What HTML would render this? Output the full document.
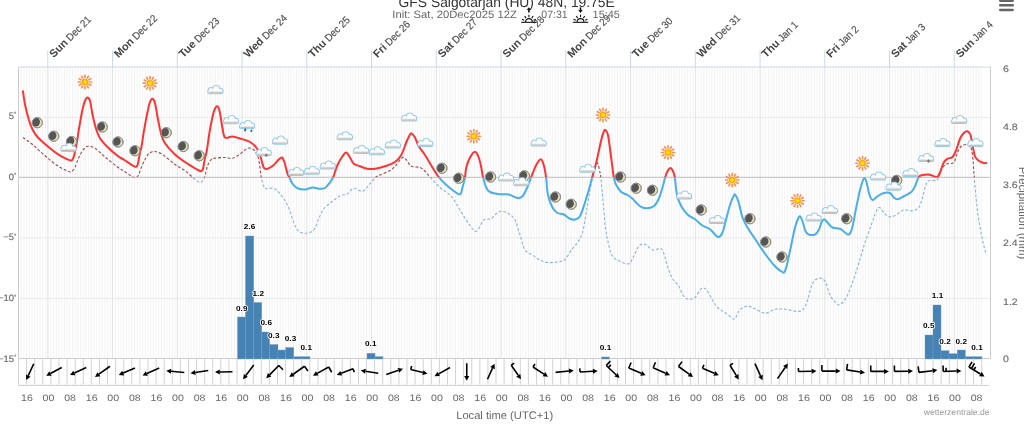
<!DOCTYPE html>
<html><head><meta charset="utf-8"><title>GFS Salgotarjan (HU) 48N, 19.75E</title>
<style>html,body{margin:0;padding:0;background:#fff;overflow:hidden}body{width:1024px;height:425px}svg{display:block}text{font-family:"Liberation Sans", sans-serif;text-rendering:geometricPrecision}</style></head><body>
<svg width="1024" height="425" viewBox="0 0 1024 425">
<defs>
<clipPath id="above"><rect x="18.5" y="67.0" width="972.0" height="110.30"/></clipPath>
<clipPath id="below"><rect x="18.5" y="177.30" width="972.0" height="181.20"/></clipPath>
<clipPath id="plot"><rect x="18.5" y="67.0" width="972.0" height="291.5"/></clipPath>
<radialGradient id="sung"><stop offset="0" stop-color="#fff200"/><stop offset="0.45" stop-color="#ffd800"/><stop offset="1" stop-color="#ff8a00"/></radialGradient>
<linearGradient id="cldg" x1="0" y1="0" x2="0" y2="1"><stop offset="0" stop-color="#ffffff"/><stop offset="0.35" stop-color="#ecebe9"/><stop offset="1" stop-color="#b5b1ab"/></linearGradient>
<clipPath id="moonclip"><circle cx="0" cy="0" r="5.1"/></clipPath>
<g id="cloud"><g fill="#8fc6ea" stroke="#8fc6ea" stroke-width="2" stroke-opacity="0.9"><rect x="-7.2" y="0.2" width="14.4" height="3.4" rx="1.9"/><circle cx="-4.3" cy="0.5" r="2.1"/><circle cx="0.9" cy="-0.6" r="3.0"/><circle cx="5.0" cy="1.1" r="2.0"/></g><g fill="#fff"><rect x="-7.2" y="0.2" width="14.4" height="3.4" rx="1.9"/><circle cx="-4.3" cy="0.5" r="2.1"/><circle cx="0.9" cy="-0.6" r="3.0"/><circle cx="5.0" cy="1.1" r="2.0"/></g><rect x="-6.7" y="0.9" width="13.4" height="2.7" rx="0.9" fill="url(#cldg)"/></g>
<g id="sun"><g stroke="#f4813a" stroke-width="1.7" stroke-linecap="round" opacity="0.85"><line x1="0.00" y1="-4.50" x2="0.00" y2="-6.60"/><line x1="2.25" y1="-3.90" x2="3.30" y2="-5.72"/><line x1="3.90" y1="-2.25" x2="5.72" y2="-3.30"/><line x1="4.50" y1="-0.00" x2="6.60" y2="-0.00"/><line x1="3.90" y1="2.25" x2="5.72" y2="3.30"/><line x1="2.25" y1="3.90" x2="3.30" y2="5.72"/><line x1="0.00" y1="4.50" x2="0.00" y2="6.60"/><line x1="-2.25" y1="3.90" x2="-3.30" y2="5.72"/><line x1="-3.90" y1="2.25" x2="-5.72" y2="3.30"/><line x1="-4.50" y1="0.00" x2="-6.60" y2="0.00"/><line x1="-3.90" y1="-2.25" x2="-5.72" y2="-3.30"/><line x1="-2.25" y1="-3.90" x2="-3.30" y2="-5.72"/></g><circle r="3.3" fill="url(#sung)"/></g>
<g id="moon"><circle r="5.1" fill="#e4dfb2" stroke="#8c8c8c" stroke-width="0.9"/><circle cx="-1.8" cy="-0.7" r="4.5" fill="#555555" clip-path="url(#moonclip)"/><circle r="5.1" fill="none" stroke="#8c8c8c" stroke-width="0.9"/></g>
</defs>
<rect width="1024" height="425" fill="#fff"/>
<g opacity="0.999">
<path d="M18.50 67.0V358.5M21.20 67.0V358.5M23.90 67.0V358.5M26.59 67.0V358.5M29.29 67.0V358.5M31.99 67.0V358.5M34.69 67.0V358.5M37.39 67.0V358.5M40.08 67.0V358.5M42.78 67.0V358.5M45.48 67.0V358.5M48.18 67.0V358.5M50.87 67.0V358.5M53.57 67.0V358.5M56.27 67.0V358.5M58.97 67.0V358.5M61.67 67.0V358.5M64.36 67.0V358.5M67.06 67.0V358.5M69.76 67.0V358.5M72.46 67.0V358.5M75.16 67.0V358.5M77.85 67.0V358.5M80.55 67.0V358.5M83.25 67.0V358.5M85.95 67.0V358.5M88.65 67.0V358.5M91.34 67.0V358.5M94.04 67.0V358.5M96.74 67.0V358.5M99.44 67.0V358.5M102.14 67.0V358.5M104.83 67.0V358.5M107.53 67.0V358.5M110.23 67.0V358.5M112.93 67.0V358.5M115.63 67.0V358.5M118.32 67.0V358.5M121.02 67.0V358.5M123.72 67.0V358.5M126.42 67.0V358.5M129.11 67.0V358.5M131.81 67.0V358.5M134.51 67.0V358.5M137.21 67.0V358.5M139.91 67.0V358.5M142.60 67.0V358.5M145.30 67.0V358.5M148.00 67.0V358.5M150.70 67.0V358.5M153.40 67.0V358.5M156.09 67.0V358.5M158.79 67.0V358.5M161.49 67.0V358.5M164.19 67.0V358.5M166.89 67.0V358.5M169.58 67.0V358.5M172.28 67.0V358.5M174.98 67.0V358.5M177.68 67.0V358.5M180.37 67.0V358.5M183.07 67.0V358.5M185.77 67.0V358.5M188.47 67.0V358.5M191.17 67.0V358.5M193.86 67.0V358.5M196.56 67.0V358.5M199.26 67.0V358.5M201.96 67.0V358.5M204.66 67.0V358.5M207.35 67.0V358.5M210.05 67.0V358.5M212.75 67.0V358.5M215.45 67.0V358.5M218.15 67.0V358.5M220.84 67.0V358.5M223.54 67.0V358.5M226.24 67.0V358.5M228.94 67.0V358.5M231.64 67.0V358.5M234.33 67.0V358.5M237.03 67.0V358.5M239.73 67.0V358.5M242.43 67.0V358.5M245.12 67.0V358.5M247.82 67.0V358.5M250.52 67.0V358.5M253.22 67.0V358.5M255.92 67.0V358.5M258.61 67.0V358.5M261.31 67.0V358.5M264.01 67.0V358.5M266.71 67.0V358.5M269.41 67.0V358.5M272.10 67.0V358.5M274.80 67.0V358.5M277.50 67.0V358.5M280.20 67.0V358.5M282.90 67.0V358.5M285.59 67.0V358.5M288.29 67.0V358.5M290.99 67.0V358.5M293.69 67.0V358.5M296.39 67.0V358.5M299.08 67.0V358.5M301.78 67.0V358.5M304.48 67.0V358.5M307.18 67.0V358.5M309.88 67.0V358.5M312.57 67.0V358.5M315.27 67.0V358.5M317.97 67.0V358.5M320.67 67.0V358.5M323.36 67.0V358.5M326.06 67.0V358.5M328.76 67.0V358.5M331.46 67.0V358.5M334.16 67.0V358.5M336.85 67.0V358.5M339.55 67.0V358.5M342.25 67.0V358.5M344.95 67.0V358.5M347.65 67.0V358.5M350.34 67.0V358.5M353.04 67.0V358.5M355.74 67.0V358.5M358.44 67.0V358.5M361.14 67.0V358.5M363.83 67.0V358.5M366.53 67.0V358.5M369.23 67.0V358.5M371.93 67.0V358.5M374.63 67.0V358.5M377.32 67.0V358.5M380.02 67.0V358.5M382.72 67.0V358.5M385.42 67.0V358.5M388.11 67.0V358.5M390.81 67.0V358.5M393.51 67.0V358.5M396.21 67.0V358.5M398.91 67.0V358.5M401.60 67.0V358.5M404.30 67.0V358.5M407.00 67.0V358.5M409.70 67.0V358.5M412.40 67.0V358.5M415.09 67.0V358.5M417.79 67.0V358.5M420.49 67.0V358.5M423.19 67.0V358.5M425.89 67.0V358.5M428.58 67.0V358.5M431.28 67.0V358.5M433.98 67.0V358.5M436.68 67.0V358.5M439.38 67.0V358.5M442.07 67.0V358.5M444.77 67.0V358.5M447.47 67.0V358.5M450.17 67.0V358.5M452.86 67.0V358.5M455.56 67.0V358.5M458.26 67.0V358.5M460.96 67.0V358.5M463.66 67.0V358.5M466.35 67.0V358.5M469.05 67.0V358.5M471.75 67.0V358.5M474.45 67.0V358.5M477.15 67.0V358.5M479.84 67.0V358.5M482.54 67.0V358.5M485.24 67.0V358.5M487.94 67.0V358.5M490.64 67.0V358.5M493.33 67.0V358.5M496.03 67.0V358.5M498.73 67.0V358.5M501.43 67.0V358.5M504.13 67.0V358.5M506.82 67.0V358.5M509.52 67.0V358.5M512.22 67.0V358.5M514.92 67.0V358.5M517.61 67.0V358.5M520.31 67.0V358.5M523.01 67.0V358.5M525.71 67.0V358.5M528.41 67.0V358.5M531.10 67.0V358.5M533.80 67.0V358.5M536.50 67.0V358.5M539.20 67.0V358.5M541.90 67.0V358.5M544.59 67.0V358.5M547.29 67.0V358.5M549.99 67.0V358.5M552.69 67.0V358.5M555.39 67.0V358.5M558.08 67.0V358.5M560.78 67.0V358.5M563.48 67.0V358.5M566.18 67.0V358.5M568.88 67.0V358.5M571.57 67.0V358.5M574.27 67.0V358.5M576.97 67.0V358.5M579.67 67.0V358.5M582.36 67.0V358.5M585.06 67.0V358.5M587.76 67.0V358.5M590.46 67.0V358.5M593.16 67.0V358.5M595.85 67.0V358.5M598.55 67.0V358.5M601.25 67.0V358.5M603.95 67.0V358.5M606.65 67.0V358.5M609.34 67.0V358.5M612.04 67.0V358.5M614.74 67.0V358.5M617.44 67.0V358.5M620.14 67.0V358.5M622.83 67.0V358.5M625.53 67.0V358.5M628.23 67.0V358.5M630.93 67.0V358.5M633.62 67.0V358.5M636.32 67.0V358.5M639.02 67.0V358.5M641.72 67.0V358.5M644.42 67.0V358.5M647.11 67.0V358.5M649.81 67.0V358.5M652.51 67.0V358.5M655.21 67.0V358.5M657.91 67.0V358.5M660.60 67.0V358.5M663.30 67.0V358.5M666.00 67.0V358.5M668.70 67.0V358.5M671.40 67.0V358.5M674.09 67.0V358.5M676.79 67.0V358.5M679.49 67.0V358.5M682.19 67.0V358.5M684.89 67.0V358.5M687.58 67.0V358.5M690.28 67.0V358.5M692.98 67.0V358.5M695.68 67.0V358.5M698.37 67.0V358.5M701.07 67.0V358.5M703.77 67.0V358.5M706.47 67.0V358.5M709.17 67.0V358.5M711.86 67.0V358.5M714.56 67.0V358.5M717.26 67.0V358.5M719.96 67.0V358.5M722.66 67.0V358.5M725.35 67.0V358.5M728.05 67.0V358.5M730.75 67.0V358.5M733.45 67.0V358.5M736.15 67.0V358.5M738.84 67.0V358.5M741.54 67.0V358.5M744.24 67.0V358.5M746.94 67.0V358.5M749.64 67.0V358.5M752.33 67.0V358.5M755.03 67.0V358.5M757.73 67.0V358.5M760.43 67.0V358.5M763.12 67.0V358.5M765.82 67.0V358.5M768.52 67.0V358.5M771.22 67.0V358.5M773.92 67.0V358.5M776.61 67.0V358.5M779.31 67.0V358.5M782.01 67.0V358.5M784.71 67.0V358.5M787.41 67.0V358.5M790.10 67.0V358.5M792.80 67.0V358.5M795.50 67.0V358.5M798.20 67.0V358.5M800.90 67.0V358.5M803.59 67.0V358.5M806.29 67.0V358.5M808.99 67.0V358.5M811.69 67.0V358.5M814.39 67.0V358.5M817.08 67.0V358.5M819.78 67.0V358.5M822.48 67.0V358.5M825.18 67.0V358.5M827.87 67.0V358.5M830.57 67.0V358.5M833.27 67.0V358.5M835.97 67.0V358.5M838.67 67.0V358.5M841.36 67.0V358.5M844.06 67.0V358.5M846.76 67.0V358.5M849.46 67.0V358.5M852.16 67.0V358.5M854.85 67.0V358.5M857.55 67.0V358.5M860.25 67.0V358.5M862.95 67.0V358.5M865.65 67.0V358.5M868.34 67.0V358.5M871.04 67.0V358.5M873.74 67.0V358.5M876.44 67.0V358.5M879.14 67.0V358.5M881.83 67.0V358.5M884.53 67.0V358.5M887.23 67.0V358.5M889.93 67.0V358.5M892.62 67.0V358.5M895.32 67.0V358.5M898.02 67.0V358.5M900.72 67.0V358.5M903.42 67.0V358.5M906.11 67.0V358.5M908.81 67.0V358.5M911.51 67.0V358.5M914.21 67.0V358.5M916.91 67.0V358.5M919.60 67.0V358.5M922.30 67.0V358.5M925.00 67.0V358.5M927.70 67.0V358.5M930.40 67.0V358.5M933.09 67.0V358.5M935.79 67.0V358.5M938.49 67.0V358.5M941.19 67.0V358.5M943.89 67.0V358.5M946.58 67.0V358.5M949.28 67.0V358.5M951.98 67.0V358.5M954.68 67.0V358.5M957.37 67.0V358.5M960.07 67.0V358.5M962.77 67.0V358.5M965.47 67.0V358.5M968.17 67.0V358.5M970.86 67.0V358.5M973.56 67.0V358.5M976.26 67.0V358.5M978.96 67.0V358.5M981.66 67.0V358.5" stroke="#f3f3f3" stroke-width="1" fill="none"/>
<path d="M47.80 67.0V358.5M112.55 67.0V358.5M177.30 67.0V358.5M242.05 67.0V358.5M306.80 67.0V358.5M371.55 67.0V358.5M436.30 67.0V358.5M501.05 67.0V358.5M565.80 67.0V358.5M630.55 67.0V358.5M695.30 67.0V358.5M760.05 67.0V358.5M824.80 67.0V358.5M889.55 67.0V358.5M954.30 67.0V358.5" stroke="#e4e4e4" stroke-width="1" fill="none"/>
<path d="M18.5 117.4H990.5M18.5 237.9H990.5M18.5 298.4H990.5" stroke="#ebebeb" stroke-width="1" fill="none"/>
<path d="M18.5 177.40H990.5" stroke="#c9c9c9" stroke-width="1.2" fill="none"/>
<path d="M18.5 67.0V385.5" stroke="#cccccc" stroke-width="1" fill="none"/>
<path d="M990.5 67.0V358.5" stroke="#cccccc" stroke-width="1" fill="none"/>
<path d="M18.5 358.5H990.5" stroke="#cccccc" stroke-width="1" fill="none"/>
<path d="M18.5 67.0H990.5" stroke="#ccd6eb" stroke-width="1" fill="none"/>
<rect x="237.50" y="317.00" width="8.00" height="42.00" fill="#4682b4" stroke="#6d9cc6" stroke-width="0.4"/>
<rect x="245.50" y="236.00" width="8.25" height="123.00" fill="#4682b4" stroke="#6d9cc6" stroke-width="0.4"/>
<rect x="253.75" y="302.50" width="8.00" height="56.50" fill="#4682b4" stroke="#6d9cc6" stroke-width="0.4"/>
<rect x="261.75" y="332.00" width="7.85" height="27.00" fill="#4682b4" stroke="#6d9cc6" stroke-width="0.4"/>
<rect x="269.60" y="344.50" width="8.40" height="14.50" fill="#4682b4" stroke="#6d9cc6" stroke-width="0.4"/>
<rect x="278.00" y="350.00" width="7.75" height="9.00" fill="#4682b4" stroke="#6d9cc6" stroke-width="0.4"/>
<rect x="285.75" y="347.50" width="8.00" height="11.50" fill="#4682b4" stroke="#6d9cc6" stroke-width="0.4"/>
<rect x="293.75" y="356.75" width="8.25" height="2.25" fill="#4682b4" stroke="#6d9cc6" stroke-width="0.4"/>
<rect x="302.00" y="356.75" width="8.00" height="2.25" fill="#4682b4" stroke="#6d9cc6" stroke-width="0.4"/>
<rect x="367.00" y="353.25" width="8.00" height="5.75" fill="#4682b4" stroke="#6d9cc6" stroke-width="0.4"/>
<rect x="375.00" y="356.75" width="8.00" height="2.25" fill="#4682b4" stroke="#6d9cc6" stroke-width="0.4"/>
<rect x="601.75" y="357.00" width="7.75" height="2.00" fill="#4682b4" stroke="#6d9cc6" stroke-width="0.4"/>
<rect x="925.00" y="335.00" width="8.00" height="24.00" fill="#4682b4" stroke="#6d9cc6" stroke-width="0.4"/>
<rect x="933.00" y="305.00" width="8.00" height="54.00" fill="#4682b4" stroke="#6d9cc6" stroke-width="0.4"/>
<rect x="941.00" y="350.75" width="8.00" height="8.25" fill="#4682b4" stroke="#6d9cc6" stroke-width="0.4"/>
<rect x="949.00" y="353.75" width="8.25" height="5.25" fill="#4682b4" stroke="#6d9cc6" stroke-width="0.4"/>
<rect x="957.25" y="350.00" width="8.00" height="9.00" fill="#4682b4" stroke="#6d9cc6" stroke-width="0.4"/>
<rect x="965.25" y="356.75" width="8.25" height="2.25" fill="#4682b4" stroke="#6d9cc6" stroke-width="0.4"/>
<rect x="973.50" y="356.75" width="8.50" height="2.25" fill="#4682b4" stroke="#6d9cc6" stroke-width="0.4"/>
<path d="M23.00 137.50C24.58 138.67 28.83 141.46 32.50 144.50C36.17 147.54 40.83 152.21 45.00 155.75C49.17 159.29 53.75 163.21 57.50 165.75C61.25 168.29 65.37 169.96 67.50 171.00C69.63 172.04 69.47 172.03 70.30 172.00C71.13 171.97 71.72 171.58 72.50 170.80C73.28 170.02 74.05 169.30 75.00 167.30C75.95 165.30 77.03 161.47 78.20 158.80C79.37 156.13 80.87 153.10 82.00 151.30C83.13 149.50 84.00 148.83 85.00 148.00C86.00 147.17 86.33 146.26 88.00 146.30C89.67 146.34 92.17 146.47 95.00 148.25C97.83 150.03 101.25 153.88 105.00 157.00C108.75 160.12 114.27 164.60 117.50 167.00C120.73 169.40 121.98 169.82 124.40 171.40C126.82 172.98 130.12 175.47 132.00 176.50C133.88 177.53 134.62 177.83 135.70 177.60C136.78 177.37 137.63 176.62 138.50 175.10C139.37 173.58 139.95 170.85 140.90 168.50C141.85 166.15 143.02 163.35 144.20 161.00C145.38 158.65 146.78 155.90 148.00 154.40C149.22 152.90 150.42 152.50 151.50 152.00C152.58 151.50 152.67 150.98 154.50 151.40C156.33 151.82 159.08 152.32 162.50 154.50C165.92 156.68 171.25 161.79 175.00 164.50C178.75 167.21 181.83 168.42 185.00 170.75C188.17 173.08 191.50 176.54 194.00 178.50C196.50 180.46 198.53 182.17 200.00 182.50C201.47 182.83 202.02 181.42 202.80 180.50C203.58 179.58 203.92 179.42 204.70 177.00C205.48 174.58 206.45 168.87 207.50 166.00C208.55 163.13 209.75 161.09 211.00 159.80C212.25 158.51 212.67 158.63 215.00 158.25C217.33 157.87 222.08 157.50 225.00 157.50C227.92 157.50 230.00 158.83 232.50 158.25C235.00 157.67 237.92 155.38 240.00 154.00C242.08 152.62 243.33 151.00 245.00 150.00C246.67 149.00 248.33 147.79 250.00 148.00C251.67 148.21 253.54 149.25 255.00 151.25C256.46 153.25 257.71 155.71 258.75 160.00C259.79 164.29 260.42 172.62 261.25 177.00C262.08 181.38 262.92 184.29 263.75 186.25C264.58 188.21 264.58 188.42 266.25 188.75C267.92 189.08 271.46 187.42 273.75 188.25C276.04 189.08 277.71 190.96 280.00 193.75C282.29 196.54 285.21 200.21 287.50 205.00C289.79 209.79 291.88 218.12 293.75 222.50C295.62 226.88 296.67 229.46 298.75 231.25C300.83 233.04 303.75 233.46 306.25 233.25C308.75 233.04 311.67 232.42 313.75 230.00C315.83 227.58 317.08 222.29 318.75 218.75C320.42 215.21 321.46 211.67 323.75 208.75C326.04 205.83 329.79 203.42 332.50 201.25C335.21 199.08 337.50 197.00 340.00 195.75C342.50 194.50 345.21 195.00 347.50 193.75C349.79 192.50 351.25 188.67 353.75 188.25C356.25 187.83 359.79 192.00 362.50 191.25C365.21 190.50 367.75 186.12 370.00 183.75C372.25 181.38 374.33 178.46 376.00 177.00C377.67 175.54 377.67 176.08 380.00 175.00C382.33 173.92 387.29 172.17 390.00 170.50C392.71 168.83 394.38 167.00 396.25 165.00C398.12 163.00 400.00 159.75 401.25 158.50C402.50 157.25 402.71 157.04 403.75 157.50C404.79 157.96 406.25 159.79 407.50 161.25C408.75 162.71 409.17 165.21 411.25 166.25C413.33 167.29 417.71 166.67 420.00 167.50C422.29 168.33 423.33 169.67 425.00 171.25C426.67 172.83 427.50 174.29 430.00 177.00C432.50 179.71 436.46 184.29 440.00 187.50C443.54 190.71 447.92 192.50 451.25 196.25C454.58 200.00 457.08 205.42 460.00 210.00C462.92 214.58 466.04 220.21 468.75 223.75C471.46 227.29 473.75 231.88 476.25 231.25C478.75 230.62 481.25 222.08 483.75 220.00C486.25 217.92 489.17 219.79 491.25 218.75C493.33 217.71 494.58 215.00 496.25 213.75C497.92 212.50 499.17 211.25 501.25 211.25C503.33 211.25 506.46 212.29 508.75 213.75C511.04 215.21 513.12 216.46 515.00 220.00C516.88 223.54 518.33 230.00 520.00 235.00C521.67 240.00 522.92 246.67 525.00 250.00C527.08 253.33 530.00 253.33 532.50 255.00C535.00 256.67 537.50 258.75 540.00 260.00C542.50 261.25 544.58 262.17 547.50 262.50C550.42 262.83 554.58 262.50 557.50 262.00C560.42 261.50 562.71 261.50 565.00 259.50C567.29 257.50 569.17 252.83 571.25 250.00C573.33 247.17 575.62 245.42 577.50 242.50C579.38 239.58 581.04 237.50 582.50 232.50C583.96 227.50 585.00 219.58 586.25 212.50C587.50 205.42 588.88 196.08 590.00 190.00C591.12 183.92 591.96 180.17 593.00 176.00C594.04 171.83 595.42 167.04 596.25 165.00C597.08 162.96 597.38 162.50 598.00 163.75C598.62 165.00 599.54 170.29 600.00 172.50C600.46 174.71 600.25 172.42 600.75 177.00C601.25 181.58 602.21 191.58 603.00 200.00C603.79 208.42 604.54 220.00 605.50 227.50C606.46 235.00 607.58 240.21 608.75 245.00C609.92 249.79 610.62 253.54 612.50 256.25C614.38 258.96 617.29 260.00 620.00 261.25C622.71 262.50 626.46 264.58 628.75 263.75C631.04 262.92 632.08 259.17 633.75 256.25C635.42 253.33 636.88 248.25 638.75 246.25C640.62 244.25 642.71 243.62 645.00 244.25C647.29 244.88 649.79 249.25 652.50 250.00C655.21 250.75 659.17 247.50 661.25 248.75C663.33 250.00 663.75 253.96 665.00 257.50C666.25 261.04 667.50 266.46 668.75 270.00C670.00 273.54 670.83 276.04 672.50 278.75C674.17 281.46 676.88 283.33 678.75 286.25C680.62 289.17 682.08 294.08 683.75 296.25C685.42 298.42 686.88 299.04 688.75 299.25C690.62 299.46 693.12 299.04 695.00 297.50C696.88 295.96 698.54 291.58 700.00 290.00C701.46 288.42 702.50 287.79 703.75 288.00C705.00 288.21 706.04 289.25 707.50 291.25C708.96 293.25 710.83 297.29 712.50 300.00C714.17 302.71 715.42 305.42 717.50 307.50C719.58 309.58 722.71 310.83 725.00 312.50C727.29 314.17 729.58 316.46 731.25 317.50C732.92 318.54 733.54 320.08 735.00 318.75C736.46 317.42 737.92 311.58 740.00 309.50C742.08 307.42 745.00 306.38 747.50 306.25C750.00 306.12 752.08 307.58 755.00 308.75C757.92 309.92 761.67 313.17 765.00 313.25C768.33 313.33 771.67 309.92 775.00 309.25C778.33 308.58 780.83 308.92 785.00 309.25C789.17 309.58 796.46 312.17 800.00 311.25C803.54 310.33 804.17 308.33 806.25 303.75C808.33 299.17 810.42 288.00 812.50 283.75C814.58 279.50 816.67 278.67 818.75 278.25C820.83 277.83 823.12 278.46 825.00 281.25C826.88 284.04 828.12 291.33 830.00 295.00C831.88 298.67 834.58 301.67 836.25 303.25C837.92 304.83 838.33 305.46 840.00 304.50C841.67 303.54 844.17 301.17 846.25 297.50C848.33 293.83 850.62 287.50 852.50 282.50C854.38 277.50 856.04 272.08 857.50 267.50C858.96 262.92 860.00 259.17 861.25 255.00C862.50 250.83 863.33 247.50 865.00 242.50C866.67 237.50 869.38 230.21 871.25 225.00C873.12 219.79 874.88 214.17 876.25 211.25C877.62 208.33 878.25 207.29 879.50 207.50C880.75 207.71 882.21 210.96 883.75 212.50C885.29 214.04 886.88 216.25 888.75 216.75C890.62 217.25 892.50 216.62 895.00 215.50C897.50 214.38 900.83 210.79 903.75 210.00C906.67 209.21 910.00 211.17 912.50 210.75C915.00 210.33 917.08 209.71 918.75 207.50C920.42 205.29 921.25 201.46 922.50 197.50C923.75 193.54 925.00 186.58 926.25 183.75C927.50 180.92 928.33 181.04 930.00 180.50C931.67 179.96 934.79 181.08 936.25 180.50C937.71 179.92 937.71 179.17 938.75 177.00C939.79 174.83 941.04 169.71 942.50 167.50C943.96 165.29 945.62 164.58 947.50 163.75C949.38 162.92 952.08 164.38 953.75 162.50C955.42 160.62 956.25 155.21 957.50 152.50C958.75 149.79 959.79 147.58 961.25 146.25C962.71 144.92 964.79 144.62 966.25 144.50C967.71 144.38 968.96 143.75 970.00 145.50C971.04 147.25 971.79 149.75 972.50 155.00C973.21 160.25 973.62 169.50 974.25 177.00C974.88 184.50 975.50 192.83 976.25 200.00C977.00 207.17 977.71 213.33 978.75 220.00C979.79 226.67 981.25 234.17 982.50 240.00C983.75 245.83 985.62 252.50 986.25 255.00" fill="none" stroke="#a04848" stroke-width="1.1" stroke-dasharray="2.8 1.9" clip-path="url(#above)"/>
<path d="M23.00 137.50C24.58 138.67 28.83 141.46 32.50 144.50C36.17 147.54 40.83 152.21 45.00 155.75C49.17 159.29 53.75 163.21 57.50 165.75C61.25 168.29 65.37 169.96 67.50 171.00C69.63 172.04 69.47 172.03 70.30 172.00C71.13 171.97 71.72 171.58 72.50 170.80C73.28 170.02 74.05 169.30 75.00 167.30C75.95 165.30 77.03 161.47 78.20 158.80C79.37 156.13 80.87 153.10 82.00 151.30C83.13 149.50 84.00 148.83 85.00 148.00C86.00 147.17 86.33 146.26 88.00 146.30C89.67 146.34 92.17 146.47 95.00 148.25C97.83 150.03 101.25 153.88 105.00 157.00C108.75 160.12 114.27 164.60 117.50 167.00C120.73 169.40 121.98 169.82 124.40 171.40C126.82 172.98 130.12 175.47 132.00 176.50C133.88 177.53 134.62 177.83 135.70 177.60C136.78 177.37 137.63 176.62 138.50 175.10C139.37 173.58 139.95 170.85 140.90 168.50C141.85 166.15 143.02 163.35 144.20 161.00C145.38 158.65 146.78 155.90 148.00 154.40C149.22 152.90 150.42 152.50 151.50 152.00C152.58 151.50 152.67 150.98 154.50 151.40C156.33 151.82 159.08 152.32 162.50 154.50C165.92 156.68 171.25 161.79 175.00 164.50C178.75 167.21 181.83 168.42 185.00 170.75C188.17 173.08 191.50 176.54 194.00 178.50C196.50 180.46 198.53 182.17 200.00 182.50C201.47 182.83 202.02 181.42 202.80 180.50C203.58 179.58 203.92 179.42 204.70 177.00C205.48 174.58 206.45 168.87 207.50 166.00C208.55 163.13 209.75 161.09 211.00 159.80C212.25 158.51 212.67 158.63 215.00 158.25C217.33 157.87 222.08 157.50 225.00 157.50C227.92 157.50 230.00 158.83 232.50 158.25C235.00 157.67 237.92 155.38 240.00 154.00C242.08 152.62 243.33 151.00 245.00 150.00C246.67 149.00 248.33 147.79 250.00 148.00C251.67 148.21 253.54 149.25 255.00 151.25C256.46 153.25 257.71 155.71 258.75 160.00C259.79 164.29 260.42 172.62 261.25 177.00C262.08 181.38 262.92 184.29 263.75 186.25C264.58 188.21 264.58 188.42 266.25 188.75C267.92 189.08 271.46 187.42 273.75 188.25C276.04 189.08 277.71 190.96 280.00 193.75C282.29 196.54 285.21 200.21 287.50 205.00C289.79 209.79 291.88 218.12 293.75 222.50C295.62 226.88 296.67 229.46 298.75 231.25C300.83 233.04 303.75 233.46 306.25 233.25C308.75 233.04 311.67 232.42 313.75 230.00C315.83 227.58 317.08 222.29 318.75 218.75C320.42 215.21 321.46 211.67 323.75 208.75C326.04 205.83 329.79 203.42 332.50 201.25C335.21 199.08 337.50 197.00 340.00 195.75C342.50 194.50 345.21 195.00 347.50 193.75C349.79 192.50 351.25 188.67 353.75 188.25C356.25 187.83 359.79 192.00 362.50 191.25C365.21 190.50 367.75 186.12 370.00 183.75C372.25 181.38 374.33 178.46 376.00 177.00C377.67 175.54 377.67 176.08 380.00 175.00C382.33 173.92 387.29 172.17 390.00 170.50C392.71 168.83 394.38 167.00 396.25 165.00C398.12 163.00 400.00 159.75 401.25 158.50C402.50 157.25 402.71 157.04 403.75 157.50C404.79 157.96 406.25 159.79 407.50 161.25C408.75 162.71 409.17 165.21 411.25 166.25C413.33 167.29 417.71 166.67 420.00 167.50C422.29 168.33 423.33 169.67 425.00 171.25C426.67 172.83 427.50 174.29 430.00 177.00C432.50 179.71 436.46 184.29 440.00 187.50C443.54 190.71 447.92 192.50 451.25 196.25C454.58 200.00 457.08 205.42 460.00 210.00C462.92 214.58 466.04 220.21 468.75 223.75C471.46 227.29 473.75 231.88 476.25 231.25C478.75 230.62 481.25 222.08 483.75 220.00C486.25 217.92 489.17 219.79 491.25 218.75C493.33 217.71 494.58 215.00 496.25 213.75C497.92 212.50 499.17 211.25 501.25 211.25C503.33 211.25 506.46 212.29 508.75 213.75C511.04 215.21 513.12 216.46 515.00 220.00C516.88 223.54 518.33 230.00 520.00 235.00C521.67 240.00 522.92 246.67 525.00 250.00C527.08 253.33 530.00 253.33 532.50 255.00C535.00 256.67 537.50 258.75 540.00 260.00C542.50 261.25 544.58 262.17 547.50 262.50C550.42 262.83 554.58 262.50 557.50 262.00C560.42 261.50 562.71 261.50 565.00 259.50C567.29 257.50 569.17 252.83 571.25 250.00C573.33 247.17 575.62 245.42 577.50 242.50C579.38 239.58 581.04 237.50 582.50 232.50C583.96 227.50 585.00 219.58 586.25 212.50C587.50 205.42 588.88 196.08 590.00 190.00C591.12 183.92 591.96 180.17 593.00 176.00C594.04 171.83 595.42 167.04 596.25 165.00C597.08 162.96 597.38 162.50 598.00 163.75C598.62 165.00 599.54 170.29 600.00 172.50C600.46 174.71 600.25 172.42 600.75 177.00C601.25 181.58 602.21 191.58 603.00 200.00C603.79 208.42 604.54 220.00 605.50 227.50C606.46 235.00 607.58 240.21 608.75 245.00C609.92 249.79 610.62 253.54 612.50 256.25C614.38 258.96 617.29 260.00 620.00 261.25C622.71 262.50 626.46 264.58 628.75 263.75C631.04 262.92 632.08 259.17 633.75 256.25C635.42 253.33 636.88 248.25 638.75 246.25C640.62 244.25 642.71 243.62 645.00 244.25C647.29 244.88 649.79 249.25 652.50 250.00C655.21 250.75 659.17 247.50 661.25 248.75C663.33 250.00 663.75 253.96 665.00 257.50C666.25 261.04 667.50 266.46 668.75 270.00C670.00 273.54 670.83 276.04 672.50 278.75C674.17 281.46 676.88 283.33 678.75 286.25C680.62 289.17 682.08 294.08 683.75 296.25C685.42 298.42 686.88 299.04 688.75 299.25C690.62 299.46 693.12 299.04 695.00 297.50C696.88 295.96 698.54 291.58 700.00 290.00C701.46 288.42 702.50 287.79 703.75 288.00C705.00 288.21 706.04 289.25 707.50 291.25C708.96 293.25 710.83 297.29 712.50 300.00C714.17 302.71 715.42 305.42 717.50 307.50C719.58 309.58 722.71 310.83 725.00 312.50C727.29 314.17 729.58 316.46 731.25 317.50C732.92 318.54 733.54 320.08 735.00 318.75C736.46 317.42 737.92 311.58 740.00 309.50C742.08 307.42 745.00 306.38 747.50 306.25C750.00 306.12 752.08 307.58 755.00 308.75C757.92 309.92 761.67 313.17 765.00 313.25C768.33 313.33 771.67 309.92 775.00 309.25C778.33 308.58 780.83 308.92 785.00 309.25C789.17 309.58 796.46 312.17 800.00 311.25C803.54 310.33 804.17 308.33 806.25 303.75C808.33 299.17 810.42 288.00 812.50 283.75C814.58 279.50 816.67 278.67 818.75 278.25C820.83 277.83 823.12 278.46 825.00 281.25C826.88 284.04 828.12 291.33 830.00 295.00C831.88 298.67 834.58 301.67 836.25 303.25C837.92 304.83 838.33 305.46 840.00 304.50C841.67 303.54 844.17 301.17 846.25 297.50C848.33 293.83 850.62 287.50 852.50 282.50C854.38 277.50 856.04 272.08 857.50 267.50C858.96 262.92 860.00 259.17 861.25 255.00C862.50 250.83 863.33 247.50 865.00 242.50C866.67 237.50 869.38 230.21 871.25 225.00C873.12 219.79 874.88 214.17 876.25 211.25C877.62 208.33 878.25 207.29 879.50 207.50C880.75 207.71 882.21 210.96 883.75 212.50C885.29 214.04 886.88 216.25 888.75 216.75C890.62 217.25 892.50 216.62 895.00 215.50C897.50 214.38 900.83 210.79 903.75 210.00C906.67 209.21 910.00 211.17 912.50 210.75C915.00 210.33 917.08 209.71 918.75 207.50C920.42 205.29 921.25 201.46 922.50 197.50C923.75 193.54 925.00 186.58 926.25 183.75C927.50 180.92 928.33 181.04 930.00 180.50C931.67 179.96 934.79 181.08 936.25 180.50C937.71 179.92 937.71 179.17 938.75 177.00C939.79 174.83 941.04 169.71 942.50 167.50C943.96 165.29 945.62 164.58 947.50 163.75C949.38 162.92 952.08 164.38 953.75 162.50C955.42 160.62 956.25 155.21 957.50 152.50C958.75 149.79 959.79 147.58 961.25 146.25C962.71 144.92 964.79 144.62 966.25 144.50C967.71 144.38 968.96 143.75 970.00 145.50C971.04 147.25 971.79 149.75 972.50 155.00C973.21 160.25 973.62 169.50 974.25 177.00C974.88 184.50 975.50 192.83 976.25 200.00C977.00 207.17 977.71 213.33 978.75 220.00C979.79 226.67 981.25 234.17 982.50 240.00C983.75 245.83 985.62 252.50 986.25 255.00" fill="none" stroke="#8fb4dc" stroke-width="1.15" stroke-dasharray="2.8 1.9" clip-path="url(#below)"/>
<path d="M23.00 91.25C23.33 93.46 24.04 99.79 25.00 104.50C25.96 109.21 27.50 115.33 28.75 119.50C30.00 123.67 31.04 126.58 32.50 129.50C33.96 132.42 35.42 134.58 37.50 137.00C39.58 139.42 42.50 141.80 45.00 144.00C47.50 146.20 50.10 148.33 52.50 150.20C54.90 152.07 57.00 153.70 59.40 155.20C61.80 156.70 65.05 158.33 66.90 159.20C68.75 160.07 69.62 160.27 70.50 160.40C71.38 160.53 71.62 160.73 72.20 160.00C72.78 159.27 73.47 157.77 74.00 156.00C74.53 154.23 74.85 152.07 75.40 149.40C75.95 146.73 76.74 143.23 77.30 140.00C77.86 136.77 77.88 135.08 78.75 130.00C79.62 124.92 81.46 114.38 82.50 109.50C83.54 104.62 84.17 102.75 85.00 100.75C85.83 98.75 86.67 97.50 87.50 97.50C88.33 97.50 89.17 97.92 90.00 100.75C90.83 103.58 91.46 109.71 92.50 114.50C93.54 119.29 95.00 125.54 96.25 129.50C97.50 133.46 98.12 135.33 100.00 138.25C101.88 141.17 104.58 144.08 107.50 147.00C110.42 149.92 114.68 153.58 117.50 155.75C120.32 157.92 121.98 158.43 124.40 160.00C126.82 161.57 130.20 164.08 132.00 165.20C133.80 166.32 134.40 166.50 135.20 166.70C136.00 166.90 136.32 167.03 136.80 166.40C137.28 165.77 137.62 164.90 138.10 162.90C138.58 160.90 139.08 157.38 139.70 154.40C140.32 151.42 141.12 148.73 141.80 145.00C142.48 141.27 142.80 137.50 143.75 132.00C144.70 126.50 146.46 117.00 147.50 112.00C148.54 107.00 149.17 104.21 150.00 102.00C150.83 99.79 151.67 98.54 152.50 98.75C153.33 98.96 154.08 99.79 155.00 103.25C155.92 106.71 156.96 114.29 158.00 119.50C159.04 124.71 160.08 130.54 161.25 134.50C162.42 138.46 162.71 139.92 165.00 143.25C167.29 146.58 171.67 151.38 175.00 154.50C178.33 157.62 181.67 159.71 185.00 162.00C188.33 164.29 192.68 166.85 195.00 168.25C197.32 169.65 197.97 169.89 198.90 170.40C199.83 170.91 200.05 171.30 200.60 171.30C201.15 171.30 201.75 171.03 202.20 170.40C202.65 169.77 202.88 169.33 203.30 167.50C203.72 165.67 204.10 162.32 204.70 159.40C205.30 156.48 206.02 154.98 206.90 150.00C207.78 145.02 208.86 135.83 210.00 129.50C211.14 123.17 212.58 115.88 213.75 112.00C214.92 108.12 216.04 106.46 217.00 106.25C217.96 106.04 218.58 107.08 219.50 110.75C220.42 114.42 221.58 123.79 222.50 128.25C223.42 132.71 223.33 136.12 225.00 137.50C226.67 138.88 230.00 136.33 232.50 136.50C235.00 136.67 237.08 137.58 240.00 138.50C242.92 139.42 247.29 140.50 250.00 142.00C252.71 143.50 254.58 145.33 256.25 147.50C257.92 149.67 258.75 151.67 260.00 155.00C261.25 158.33 262.50 165.21 263.75 167.50C265.00 169.79 265.83 169.17 267.50 168.75C269.17 168.33 271.88 166.54 273.75 165.00C275.62 163.46 277.38 160.75 278.75 159.50C280.12 158.25 281.04 157.00 282.00 157.50C282.96 158.00 283.58 159.79 284.50 162.50C285.42 165.21 286.71 171.33 287.50 173.75C288.29 176.17 288.42 175.33 289.25 177.00C290.08 178.67 291.12 181.88 292.50 183.75C293.88 185.62 295.42 187.29 297.50 188.25C299.58 189.21 302.50 189.62 305.00 189.50C307.50 189.38 310.00 187.62 312.50 187.50C315.00 187.38 317.92 188.67 320.00 188.75C322.08 188.83 323.33 189.04 325.00 188.00C326.67 186.96 328.62 184.33 330.00 182.50C331.38 180.67 332.00 179.92 333.25 177.00C334.50 174.08 335.96 168.46 337.50 165.00C339.04 161.54 341.04 158.33 342.50 156.25C343.96 154.17 345.00 152.29 346.25 152.50C347.50 152.71 348.75 155.62 350.00 157.50C351.25 159.38 352.08 162.29 353.75 163.75C355.42 165.21 357.71 165.42 360.00 166.25C362.29 167.08 365.00 168.33 367.50 168.75C370.00 169.17 372.08 169.17 375.00 168.75C377.92 168.33 381.67 167.38 385.00 166.25C388.33 165.12 392.29 163.88 395.00 162.00C397.71 160.12 399.38 158.25 401.25 155.00C403.12 151.75 404.79 145.92 406.25 142.50C407.71 139.08 409.08 136.00 410.00 134.50C410.92 133.00 410.92 133.00 411.75 133.50C412.58 134.00 413.83 135.38 415.00 137.50C416.17 139.62 417.08 143.33 418.75 146.25C420.42 149.17 422.71 151.46 425.00 155.00C427.29 158.54 430.21 163.83 432.50 167.50C434.79 171.17 436.67 174.29 438.75 177.00C440.83 179.71 442.71 181.58 445.00 183.75C447.29 185.92 450.00 188.25 452.50 190.00C455.00 191.75 458.33 194.67 460.00 194.25C461.67 193.83 461.67 190.38 462.50 187.50C463.33 184.62 464.38 180.33 465.00 177.00C465.62 173.67 465.42 170.75 466.25 167.50C467.08 164.25 468.54 160.12 470.00 157.50C471.46 154.88 473.54 151.75 475.00 151.75C476.46 151.75 477.71 154.88 478.75 157.50C479.79 160.12 480.54 164.25 481.25 167.50C481.96 170.75 482.17 173.67 483.00 177.00C483.83 180.33 485.08 185.00 486.25 187.50C487.42 190.00 487.71 190.88 490.00 192.00C492.29 193.12 496.88 193.83 500.00 194.25C503.12 194.67 505.83 193.88 508.75 194.50C511.67 195.12 515.21 197.71 517.50 198.00C519.79 198.29 520.83 198.08 522.50 196.25C524.17 194.42 526.04 190.21 527.50 187.00C528.96 183.79 529.79 180.67 531.25 177.00C532.71 173.33 534.67 167.96 536.25 165.00C537.83 162.04 539.50 159.25 540.75 159.25C542.00 159.25 542.88 162.04 543.75 165.00C544.62 167.96 545.29 172.00 546.00 177.00C546.71 182.00 546.92 189.92 548.00 195.00C549.08 200.08 550.92 204.50 552.50 207.50C554.08 210.50 555.62 211.83 557.50 213.00C559.38 214.17 561.67 213.54 563.75 214.50C565.83 215.46 568.12 217.92 570.00 218.75C571.88 219.58 573.33 219.92 575.00 219.50C576.67 219.08 578.33 219.08 580.00 216.25C581.67 213.42 583.54 206.88 585.00 202.50C586.46 198.12 587.54 194.25 588.75 190.00C589.96 185.75 591.00 181.58 592.25 177.00C593.50 172.42 594.75 168.67 596.25 162.50C597.75 156.33 600.00 145.12 601.25 140.00C602.50 134.88 603.04 133.42 603.75 131.75C604.46 130.08 604.79 129.46 605.50 130.00C606.21 130.54 607.17 131.25 608.00 135.00C608.83 138.75 609.54 145.50 610.50 152.50C611.46 159.50 612.79 171.58 613.75 177.00C614.71 182.42 615.00 182.50 616.25 185.00C617.50 187.50 619.38 190.33 621.25 192.00C623.12 193.67 625.62 193.88 627.50 195.00C629.38 196.12 630.42 196.88 632.50 198.75C634.58 200.62 637.71 204.67 640.00 206.25C642.29 207.83 643.96 208.25 646.25 208.25C648.54 208.25 651.67 207.83 653.75 206.25C655.83 204.67 657.29 201.88 658.75 198.75C660.21 195.62 661.42 191.12 662.50 187.50C663.58 183.88 664.42 179.71 665.25 177.00C666.08 174.29 666.62 172.75 667.50 171.25C668.38 169.75 669.58 168.00 670.50 168.00C671.42 168.00 672.29 169.75 673.00 171.25C673.71 172.75 674.08 173.04 674.75 177.00C675.42 180.96 675.92 190.12 677.00 195.00C678.08 199.88 679.50 203.00 681.25 206.25C683.00 209.50 685.21 212.33 687.50 214.50C689.79 216.67 692.50 217.42 695.00 219.25C697.50 221.08 700.00 223.83 702.50 225.50C705.00 227.17 707.92 227.75 710.00 229.25C712.08 230.75 713.54 233.21 715.00 234.50C716.46 235.79 717.50 237.33 718.75 237.00C720.00 236.67 721.25 235.54 722.50 232.50C723.75 229.46 725.00 223.33 726.25 218.75C727.50 214.17 728.75 208.83 730.00 205.00C731.25 201.17 732.83 197.42 733.75 195.75C734.67 194.08 734.67 193.88 735.50 195.00C736.33 196.12 737.58 198.75 738.75 202.50C739.92 206.25 741.04 213.33 742.50 217.50C743.96 221.67 745.42 223.96 747.50 227.50C749.58 231.04 752.08 234.38 755.00 238.75C757.92 243.12 761.67 249.17 765.00 253.75C768.33 258.33 772.29 263.33 775.00 266.25C777.71 269.17 779.67 270.29 781.25 271.25C782.83 272.21 783.46 273.46 784.50 272.00C785.54 270.54 786.38 267.00 787.50 262.50C788.62 258.00 790.00 250.83 791.25 245.00C792.50 239.17 793.88 231.88 795.00 227.50C796.12 223.12 797.17 220.62 798.00 218.75C798.83 216.88 799.25 215.83 800.00 216.25C800.75 216.67 801.58 218.75 802.50 221.25C803.42 223.75 804.46 229.04 805.50 231.25C806.54 233.46 807.17 233.96 808.75 234.50C810.33 235.04 813.33 235.25 815.00 234.50C816.67 233.75 817.58 232.21 818.75 230.00C819.92 227.79 821.04 223.00 822.00 221.25C822.96 219.50 823.58 219.29 824.50 219.50C825.42 219.71 826.17 221.17 827.50 222.50C828.83 223.83 830.42 226.46 832.50 227.50C834.58 228.54 837.92 227.92 840.00 228.75C842.08 229.58 843.54 231.54 845.00 232.50C846.46 233.46 847.58 235.12 848.75 234.50C849.92 233.88 850.75 233.25 852.00 228.75C853.25 224.25 854.92 213.96 856.25 207.50C857.58 201.04 858.75 194.79 860.00 190.00C861.25 185.21 862.71 180.21 863.75 178.75C864.79 177.29 865.29 178.54 866.25 181.25C867.21 183.96 868.38 191.88 869.50 195.00C870.62 198.12 871.67 199.79 873.00 200.00C874.33 200.21 875.71 197.42 877.50 196.25C879.29 195.08 881.67 193.54 883.75 193.00C885.83 192.46 888.33 192.25 890.00 193.00C891.67 193.75 892.50 196.46 893.75 197.50C895.00 198.54 895.83 199.46 897.50 199.25C899.17 199.04 901.46 197.46 903.75 196.25C906.04 195.04 909.38 193.67 911.25 192.00C913.12 190.33 913.75 188.75 915.00 186.25C916.25 183.75 917.50 178.88 918.75 177.00C920.00 175.12 920.83 175.42 922.50 175.00C924.17 174.58 926.67 174.23 928.75 174.50C930.83 174.77 933.54 176.20 935.00 176.60C936.46 177.00 936.67 177.58 937.50 176.90C938.33 176.22 938.96 174.90 940.00 172.50C941.04 170.10 942.50 164.79 943.75 162.50C945.00 160.21 946.04 159.67 947.50 158.75C948.96 157.83 951.04 158.46 952.50 157.00C953.96 155.54 955.00 153.04 956.25 150.00C957.50 146.96 958.75 141.58 960.00 138.75C961.25 135.92 962.50 134.25 963.75 133.00C965.00 131.75 966.38 130.92 967.50 131.25C968.62 131.58 969.67 132.71 970.50 135.00C971.33 137.29 971.75 141.46 972.50 145.00C973.25 148.54 973.96 153.62 975.00 156.25C976.04 158.88 977.29 159.62 978.75 160.75C980.21 161.88 982.50 162.62 983.75 163.00C985.00 163.38 985.83 163.00 986.25 163.00" fill="none" stroke="#ff3333" stroke-width="2" stroke-linejoin="round" stroke-linecap="round" clip-path="url(#above)"/>
<path d="M23.00 91.25C23.33 93.46 24.04 99.79 25.00 104.50C25.96 109.21 27.50 115.33 28.75 119.50C30.00 123.67 31.04 126.58 32.50 129.50C33.96 132.42 35.42 134.58 37.50 137.00C39.58 139.42 42.50 141.80 45.00 144.00C47.50 146.20 50.10 148.33 52.50 150.20C54.90 152.07 57.00 153.70 59.40 155.20C61.80 156.70 65.05 158.33 66.90 159.20C68.75 160.07 69.62 160.27 70.50 160.40C71.38 160.53 71.62 160.73 72.20 160.00C72.78 159.27 73.47 157.77 74.00 156.00C74.53 154.23 74.85 152.07 75.40 149.40C75.95 146.73 76.74 143.23 77.30 140.00C77.86 136.77 77.88 135.08 78.75 130.00C79.62 124.92 81.46 114.38 82.50 109.50C83.54 104.62 84.17 102.75 85.00 100.75C85.83 98.75 86.67 97.50 87.50 97.50C88.33 97.50 89.17 97.92 90.00 100.75C90.83 103.58 91.46 109.71 92.50 114.50C93.54 119.29 95.00 125.54 96.25 129.50C97.50 133.46 98.12 135.33 100.00 138.25C101.88 141.17 104.58 144.08 107.50 147.00C110.42 149.92 114.68 153.58 117.50 155.75C120.32 157.92 121.98 158.43 124.40 160.00C126.82 161.57 130.20 164.08 132.00 165.20C133.80 166.32 134.40 166.50 135.20 166.70C136.00 166.90 136.32 167.03 136.80 166.40C137.28 165.77 137.62 164.90 138.10 162.90C138.58 160.90 139.08 157.38 139.70 154.40C140.32 151.42 141.12 148.73 141.80 145.00C142.48 141.27 142.80 137.50 143.75 132.00C144.70 126.50 146.46 117.00 147.50 112.00C148.54 107.00 149.17 104.21 150.00 102.00C150.83 99.79 151.67 98.54 152.50 98.75C153.33 98.96 154.08 99.79 155.00 103.25C155.92 106.71 156.96 114.29 158.00 119.50C159.04 124.71 160.08 130.54 161.25 134.50C162.42 138.46 162.71 139.92 165.00 143.25C167.29 146.58 171.67 151.38 175.00 154.50C178.33 157.62 181.67 159.71 185.00 162.00C188.33 164.29 192.68 166.85 195.00 168.25C197.32 169.65 197.97 169.89 198.90 170.40C199.83 170.91 200.05 171.30 200.60 171.30C201.15 171.30 201.75 171.03 202.20 170.40C202.65 169.77 202.88 169.33 203.30 167.50C203.72 165.67 204.10 162.32 204.70 159.40C205.30 156.48 206.02 154.98 206.90 150.00C207.78 145.02 208.86 135.83 210.00 129.50C211.14 123.17 212.58 115.88 213.75 112.00C214.92 108.12 216.04 106.46 217.00 106.25C217.96 106.04 218.58 107.08 219.50 110.75C220.42 114.42 221.58 123.79 222.50 128.25C223.42 132.71 223.33 136.12 225.00 137.50C226.67 138.88 230.00 136.33 232.50 136.50C235.00 136.67 237.08 137.58 240.00 138.50C242.92 139.42 247.29 140.50 250.00 142.00C252.71 143.50 254.58 145.33 256.25 147.50C257.92 149.67 258.75 151.67 260.00 155.00C261.25 158.33 262.50 165.21 263.75 167.50C265.00 169.79 265.83 169.17 267.50 168.75C269.17 168.33 271.88 166.54 273.75 165.00C275.62 163.46 277.38 160.75 278.75 159.50C280.12 158.25 281.04 157.00 282.00 157.50C282.96 158.00 283.58 159.79 284.50 162.50C285.42 165.21 286.71 171.33 287.50 173.75C288.29 176.17 288.42 175.33 289.25 177.00C290.08 178.67 291.12 181.88 292.50 183.75C293.88 185.62 295.42 187.29 297.50 188.25C299.58 189.21 302.50 189.62 305.00 189.50C307.50 189.38 310.00 187.62 312.50 187.50C315.00 187.38 317.92 188.67 320.00 188.75C322.08 188.83 323.33 189.04 325.00 188.00C326.67 186.96 328.62 184.33 330.00 182.50C331.38 180.67 332.00 179.92 333.25 177.00C334.50 174.08 335.96 168.46 337.50 165.00C339.04 161.54 341.04 158.33 342.50 156.25C343.96 154.17 345.00 152.29 346.25 152.50C347.50 152.71 348.75 155.62 350.00 157.50C351.25 159.38 352.08 162.29 353.75 163.75C355.42 165.21 357.71 165.42 360.00 166.25C362.29 167.08 365.00 168.33 367.50 168.75C370.00 169.17 372.08 169.17 375.00 168.75C377.92 168.33 381.67 167.38 385.00 166.25C388.33 165.12 392.29 163.88 395.00 162.00C397.71 160.12 399.38 158.25 401.25 155.00C403.12 151.75 404.79 145.92 406.25 142.50C407.71 139.08 409.08 136.00 410.00 134.50C410.92 133.00 410.92 133.00 411.75 133.50C412.58 134.00 413.83 135.38 415.00 137.50C416.17 139.62 417.08 143.33 418.75 146.25C420.42 149.17 422.71 151.46 425.00 155.00C427.29 158.54 430.21 163.83 432.50 167.50C434.79 171.17 436.67 174.29 438.75 177.00C440.83 179.71 442.71 181.58 445.00 183.75C447.29 185.92 450.00 188.25 452.50 190.00C455.00 191.75 458.33 194.67 460.00 194.25C461.67 193.83 461.67 190.38 462.50 187.50C463.33 184.62 464.38 180.33 465.00 177.00C465.62 173.67 465.42 170.75 466.25 167.50C467.08 164.25 468.54 160.12 470.00 157.50C471.46 154.88 473.54 151.75 475.00 151.75C476.46 151.75 477.71 154.88 478.75 157.50C479.79 160.12 480.54 164.25 481.25 167.50C481.96 170.75 482.17 173.67 483.00 177.00C483.83 180.33 485.08 185.00 486.25 187.50C487.42 190.00 487.71 190.88 490.00 192.00C492.29 193.12 496.88 193.83 500.00 194.25C503.12 194.67 505.83 193.88 508.75 194.50C511.67 195.12 515.21 197.71 517.50 198.00C519.79 198.29 520.83 198.08 522.50 196.25C524.17 194.42 526.04 190.21 527.50 187.00C528.96 183.79 529.79 180.67 531.25 177.00C532.71 173.33 534.67 167.96 536.25 165.00C537.83 162.04 539.50 159.25 540.75 159.25C542.00 159.25 542.88 162.04 543.75 165.00C544.62 167.96 545.29 172.00 546.00 177.00C546.71 182.00 546.92 189.92 548.00 195.00C549.08 200.08 550.92 204.50 552.50 207.50C554.08 210.50 555.62 211.83 557.50 213.00C559.38 214.17 561.67 213.54 563.75 214.50C565.83 215.46 568.12 217.92 570.00 218.75C571.88 219.58 573.33 219.92 575.00 219.50C576.67 219.08 578.33 219.08 580.00 216.25C581.67 213.42 583.54 206.88 585.00 202.50C586.46 198.12 587.54 194.25 588.75 190.00C589.96 185.75 591.00 181.58 592.25 177.00C593.50 172.42 594.75 168.67 596.25 162.50C597.75 156.33 600.00 145.12 601.25 140.00C602.50 134.88 603.04 133.42 603.75 131.75C604.46 130.08 604.79 129.46 605.50 130.00C606.21 130.54 607.17 131.25 608.00 135.00C608.83 138.75 609.54 145.50 610.50 152.50C611.46 159.50 612.79 171.58 613.75 177.00C614.71 182.42 615.00 182.50 616.25 185.00C617.50 187.50 619.38 190.33 621.25 192.00C623.12 193.67 625.62 193.88 627.50 195.00C629.38 196.12 630.42 196.88 632.50 198.75C634.58 200.62 637.71 204.67 640.00 206.25C642.29 207.83 643.96 208.25 646.25 208.25C648.54 208.25 651.67 207.83 653.75 206.25C655.83 204.67 657.29 201.88 658.75 198.75C660.21 195.62 661.42 191.12 662.50 187.50C663.58 183.88 664.42 179.71 665.25 177.00C666.08 174.29 666.62 172.75 667.50 171.25C668.38 169.75 669.58 168.00 670.50 168.00C671.42 168.00 672.29 169.75 673.00 171.25C673.71 172.75 674.08 173.04 674.75 177.00C675.42 180.96 675.92 190.12 677.00 195.00C678.08 199.88 679.50 203.00 681.25 206.25C683.00 209.50 685.21 212.33 687.50 214.50C689.79 216.67 692.50 217.42 695.00 219.25C697.50 221.08 700.00 223.83 702.50 225.50C705.00 227.17 707.92 227.75 710.00 229.25C712.08 230.75 713.54 233.21 715.00 234.50C716.46 235.79 717.50 237.33 718.75 237.00C720.00 236.67 721.25 235.54 722.50 232.50C723.75 229.46 725.00 223.33 726.25 218.75C727.50 214.17 728.75 208.83 730.00 205.00C731.25 201.17 732.83 197.42 733.75 195.75C734.67 194.08 734.67 193.88 735.50 195.00C736.33 196.12 737.58 198.75 738.75 202.50C739.92 206.25 741.04 213.33 742.50 217.50C743.96 221.67 745.42 223.96 747.50 227.50C749.58 231.04 752.08 234.38 755.00 238.75C757.92 243.12 761.67 249.17 765.00 253.75C768.33 258.33 772.29 263.33 775.00 266.25C777.71 269.17 779.67 270.29 781.25 271.25C782.83 272.21 783.46 273.46 784.50 272.00C785.54 270.54 786.38 267.00 787.50 262.50C788.62 258.00 790.00 250.83 791.25 245.00C792.50 239.17 793.88 231.88 795.00 227.50C796.12 223.12 797.17 220.62 798.00 218.75C798.83 216.88 799.25 215.83 800.00 216.25C800.75 216.67 801.58 218.75 802.50 221.25C803.42 223.75 804.46 229.04 805.50 231.25C806.54 233.46 807.17 233.96 808.75 234.50C810.33 235.04 813.33 235.25 815.00 234.50C816.67 233.75 817.58 232.21 818.75 230.00C819.92 227.79 821.04 223.00 822.00 221.25C822.96 219.50 823.58 219.29 824.50 219.50C825.42 219.71 826.17 221.17 827.50 222.50C828.83 223.83 830.42 226.46 832.50 227.50C834.58 228.54 837.92 227.92 840.00 228.75C842.08 229.58 843.54 231.54 845.00 232.50C846.46 233.46 847.58 235.12 848.75 234.50C849.92 233.88 850.75 233.25 852.00 228.75C853.25 224.25 854.92 213.96 856.25 207.50C857.58 201.04 858.75 194.79 860.00 190.00C861.25 185.21 862.71 180.21 863.75 178.75C864.79 177.29 865.29 178.54 866.25 181.25C867.21 183.96 868.38 191.88 869.50 195.00C870.62 198.12 871.67 199.79 873.00 200.00C874.33 200.21 875.71 197.42 877.50 196.25C879.29 195.08 881.67 193.54 883.75 193.00C885.83 192.46 888.33 192.25 890.00 193.00C891.67 193.75 892.50 196.46 893.75 197.50C895.00 198.54 895.83 199.46 897.50 199.25C899.17 199.04 901.46 197.46 903.75 196.25C906.04 195.04 909.38 193.67 911.25 192.00C913.12 190.33 913.75 188.75 915.00 186.25C916.25 183.75 917.50 178.88 918.75 177.00C920.00 175.12 920.83 175.42 922.50 175.00C924.17 174.58 926.67 174.23 928.75 174.50C930.83 174.77 933.54 176.20 935.00 176.60C936.46 177.00 936.67 177.58 937.50 176.90C938.33 176.22 938.96 174.90 940.00 172.50C941.04 170.10 942.50 164.79 943.75 162.50C945.00 160.21 946.04 159.67 947.50 158.75C948.96 157.83 951.04 158.46 952.50 157.00C953.96 155.54 955.00 153.04 956.25 150.00C957.50 146.96 958.75 141.58 960.00 138.75C961.25 135.92 962.50 134.25 963.75 133.00C965.00 131.75 966.38 130.92 967.50 131.25C968.62 131.58 969.67 132.71 970.50 135.00C971.33 137.29 971.75 141.46 972.50 145.00C973.25 148.54 973.96 153.62 975.00 156.25C976.04 158.88 977.29 159.62 978.75 160.75C980.21 161.88 982.50 162.62 983.75 163.00C985.00 163.38 985.83 163.00 986.25 163.00" fill="none" stroke="#48afe8" stroke-width="2" stroke-linejoin="round" stroke-linecap="round" clip-path="url(#below)"/>
<use href="#moon" x="37.30" y="122.70"/>
<use href="#moon" x="53.75" y="136.25"/>
<use href="#moon" x="71.60" y="141.50"/>
<use href="#cloud" x="68.40" y="147.30"/>
<use href="#sun" x="85.00" y="82.00"/>
<use href="#moon" x="102.30" y="127.00"/>
<use href="#moon" x="118.00" y="142.00"/>
<use href="#moon" x="135.00" y="150.75"/>
<use href="#sun" x="150.00" y="83.20"/>
<use href="#moon" x="166.25" y="132.75"/>
<use href="#moon" x="183.25" y="146.50"/>
<use href="#moon" x="199.25" y="155.75"/>
<use href="#cloud" x="215.30" y="89.60"/>
<use href="#cloud" x="230.90" y="119.70"/>
<use href="#cloud" x="247.10" y="124.50"/>
<path d="M245.50 128.10q1.6 1.5 0.6 3.0q-1.3 1.0 -2.2 -0.4q-0.3 -1.2 1.6 -2.6z" fill="#2a6fb8"/>
<path d="M251.70 129.30q1.4 1.2 0.5 2.4q-1.2 0.8 -1.9 -0.4q-0.2 -1.0 1.4 -2.0z" fill="#2a6fb8"/>
<use href="#cloud" x="263.70" y="151.70"/>
<path d="M266.20 155.30m0 -1.7l0.5 1.2l1.2 0.5l-1.2 0.5l-0.5 1.2l-0.5 -1.2l-1.2 -0.5l1.2 -0.5z" fill="#6e7478" stroke="#7b8084" stroke-width="0.5"/>
<use href="#cloud" x="280.00" y="140.20"/>
<use href="#cloud" x="296.05" y="171.50"/>
<use href="#cloud" x="311.80" y="170.25"/>
<use href="#cloud" x="327.80" y="165.00"/>
<use href="#cloud" x="344.80" y="135.75"/>
<use href="#cloud" x="361.05" y="149.50"/>
<use href="#cloud" x="376.80" y="150.75"/>
<use href="#cloud" x="392.80" y="144.00"/>
<use href="#cloud" x="409.05" y="117.00"/>
<use href="#cloud" x="425.30" y="142.50"/>
<use href="#moon" x="442.00" y="168.25"/>
<use href="#moon" x="458.75" y="178.25"/>
<use href="#sun" x="473.75" y="136.25"/>
<use href="#moon" x="490.50" y="177.00"/>
<use href="#cloud" x="506.05" y="177.00"/>
<use href="#moon" x="524.40" y="175.90"/>
<use href="#cloud" x="521.20" y="181.70"/>
<use href="#cloud" x="538.55" y="142.00"/>
<use href="#moon" x="555.50" y="197.00"/>
<use href="#moon" x="571.25" y="204.25"/>
<use href="#cloud" x="587.30" y="168.25"/>
<use href="#sun" x="603.00" y="115.00"/>
<use href="#moon" x="620.50" y="177.00"/>
<use href="#moon" x="636.25" y="188.25"/>
<use href="#moon" x="652.50" y="190.25"/>
<use href="#sun" x="668.00" y="152.50"/>
<use href="#cloud" x="684.05" y="195.00"/>
<use href="#moon" x="701.25" y="210.00"/>
<use href="#cloud" x="716.80" y="219.50"/>
<use href="#sun" x="732.25" y="180.00"/>
<use href="#moon" x="750.00" y="218.75"/>
<use href="#moon" x="765.75" y="242.00"/>
<use href="#moon" x="782.00" y="257.00"/>
<use href="#sun" x="797.50" y="200.75"/>
<use href="#cloud" x="813.55" y="217.00"/>
<use href="#cloud" x="829.80" y="209.50"/>
<use href="#moon" x="846.75" y="218.75"/>
<use href="#sun" x="862.50" y="163.25"/>
<use href="#cloud" x="878.05" y="176.00"/>
<use href="#moon" x="896.70" y="180.40"/>
<use href="#cloud" x="893.50" y="186.20"/>
<use href="#cloud" x="910.30" y="172.50"/>
<use href="#cloud" x="926.05" y="157.50"/>
<path d="M928.55 161.10m0 -1.7l0.5 1.2l1.2 0.5l-1.2 0.5l-0.5 1.2l-0.5 -1.2l-1.2 -0.5l1.2 -0.5z" fill="#6e7478" stroke="#7b8084" stroke-width="0.5"/>
<use href="#cloud" x="942.30" y="142.50"/>
<use href="#cloud" x="959.05" y="119.50"/>
<use href="#cloud" x="975.30" y="142.50"/>
<text x="236.05" y="310.60" font-size="7.3" font-weight="bold" fill="#000" textLength="11.4" lengthAdjust="spacingAndGlyphs" stroke="#fff" stroke-width="1.5" stroke-linejoin="round" paint-order="stroke">0.9</text>
<text x="243.80" y="229.10" font-size="7.3" font-weight="bold" fill="#000" textLength="11.4" lengthAdjust="spacingAndGlyphs" stroke="#fff" stroke-width="1.5" stroke-linejoin="round" paint-order="stroke">2.6</text>
<text x="252.55" y="295.85" font-size="7.3" font-weight="bold" fill="#000" textLength="11.4" lengthAdjust="spacingAndGlyphs" stroke="#fff" stroke-width="1.5" stroke-linejoin="round" paint-order="stroke">1.2</text>
<text x="260.55" y="324.60" font-size="7.3" font-weight="bold" fill="#000" textLength="11.4" lengthAdjust="spacingAndGlyphs" stroke="#fff" stroke-width="1.5" stroke-linejoin="round" paint-order="stroke">0.6</text>
<text x="268.05" y="338.10" font-size="7.3" font-weight="bold" fill="#000" textLength="11.4" lengthAdjust="spacingAndGlyphs" stroke="#fff" stroke-width="1.5" stroke-linejoin="round" paint-order="stroke">0.3</text>
<text x="284.80" y="340.60" font-size="7.3" font-weight="bold" fill="#000" textLength="11.4" lengthAdjust="spacingAndGlyphs" stroke="#fff" stroke-width="1.5" stroke-linejoin="round" paint-order="stroke">0.3</text>
<text x="300.55" y="350.10" font-size="7.3" font-weight="bold" fill="#000" textLength="11.4" lengthAdjust="spacingAndGlyphs" stroke="#fff" stroke-width="1.5" stroke-linejoin="round" paint-order="stroke">0.1</text>
<text x="365.05" y="346.35" font-size="7.3" font-weight="bold" fill="#000" textLength="11.4" lengthAdjust="spacingAndGlyphs" stroke="#fff" stroke-width="1.5" stroke-linejoin="round" paint-order="stroke">0.1</text>
<text x="599.80" y="350.10" font-size="7.3" font-weight="bold" fill="#000" textLength="11.4" lengthAdjust="spacingAndGlyphs" stroke="#fff" stroke-width="1.5" stroke-linejoin="round" paint-order="stroke">0.1</text>
<text x="923.05" y="328.35" font-size="7.3" font-weight="bold" fill="#000" textLength="11.4" lengthAdjust="spacingAndGlyphs" stroke="#fff" stroke-width="1.5" stroke-linejoin="round" paint-order="stroke">0.5</text>
<text x="931.80" y="298.10" font-size="7.3" font-weight="bold" fill="#000" textLength="11.4" lengthAdjust="spacingAndGlyphs" stroke="#fff" stroke-width="1.5" stroke-linejoin="round" paint-order="stroke">1.1</text>
<text x="939.30" y="344.35" font-size="7.3" font-weight="bold" fill="#000" textLength="11.4" lengthAdjust="spacingAndGlyphs" stroke="#fff" stroke-width="1.5" stroke-linejoin="round" paint-order="stroke">0.2</text>
<text x="955.55" y="343.85" font-size="7.3" font-weight="bold" fill="#000" textLength="11.4" lengthAdjust="spacingAndGlyphs" stroke="#fff" stroke-width="1.5" stroke-linejoin="round" paint-order="stroke">0.2</text>
<text x="971.30" y="350.10" font-size="7.3" font-weight="bold" fill="#000" textLength="11.4" lengthAdjust="spacingAndGlyphs" stroke="#fff" stroke-width="1.5" stroke-linejoin="round" paint-order="stroke">0.1</text>
<path d="M18.50 358.5V385.5M26.59 358.5V385.5M34.69 358.5V385.5M42.78 358.5V385.5M50.87 358.5V385.5M58.97 358.5V385.5M67.06 358.5V385.5M75.16 358.5V385.5M83.25 358.5V385.5M91.34 358.5V385.5M99.44 358.5V385.5M107.53 358.5V385.5M115.63 358.5V385.5M123.72 358.5V385.5M131.81 358.5V385.5M139.91 358.5V385.5M148.00 358.5V385.5M156.09 358.5V385.5M164.19 358.5V385.5M172.28 358.5V385.5M180.37 358.5V385.5M188.47 358.5V385.5M196.56 358.5V385.5M204.66 358.5V385.5M212.75 358.5V385.5M220.84 358.5V385.5M228.94 358.5V385.5M237.03 358.5V385.5M245.12 358.5V385.5M253.22 358.5V385.5M261.31 358.5V385.5M269.41 358.5V385.5M277.50 358.5V385.5M285.59 358.5V385.5M293.69 358.5V385.5M301.78 358.5V385.5M309.88 358.5V385.5M317.97 358.5V385.5M326.06 358.5V385.5M334.16 358.5V385.5M342.25 358.5V385.5M350.34 358.5V385.5M358.44 358.5V385.5M366.53 358.5V385.5M374.63 358.5V385.5M382.72 358.5V385.5M390.81 358.5V385.5M398.91 358.5V385.5M407.00 358.5V385.5M415.09 358.5V385.5M423.19 358.5V385.5M431.28 358.5V385.5M439.38 358.5V385.5M447.47 358.5V385.5M455.56 358.5V385.5M463.66 358.5V385.5M471.75 358.5V385.5M479.84 358.5V385.5M487.94 358.5V385.5M496.03 358.5V385.5M504.13 358.5V385.5M512.22 358.5V385.5M520.31 358.5V385.5M528.41 358.5V385.5M536.50 358.5V385.5M544.59 358.5V385.5M552.69 358.5V385.5M560.78 358.5V385.5M568.88 358.5V385.5M576.97 358.5V385.5M585.06 358.5V385.5M593.16 358.5V385.5M601.25 358.5V385.5M609.34 358.5V385.5M617.44 358.5V385.5M625.53 358.5V385.5M633.62 358.5V385.5M641.72 358.5V385.5M649.81 358.5V385.5M657.91 358.5V385.5M666.00 358.5V385.5M674.09 358.5V385.5M682.19 358.5V385.5M690.28 358.5V385.5M698.37 358.5V385.5M706.47 358.5V385.5M714.56 358.5V385.5M722.66 358.5V385.5M730.75 358.5V385.5M738.84 358.5V385.5M746.94 358.5V385.5M755.03 358.5V385.5M763.12 358.5V385.5M771.22 358.5V385.5M779.31 358.5V385.5M787.41 358.5V385.5M795.50 358.5V385.5M803.59 358.5V385.5M811.69 358.5V385.5M819.78 358.5V385.5M827.87 358.5V385.5M835.97 358.5V385.5M844.06 358.5V385.5M852.16 358.5V385.5M860.25 358.5V385.5M868.34 358.5V385.5M876.44 358.5V385.5M884.53 358.5V385.5M892.62 358.5V385.5M900.72 358.5V385.5M908.81 358.5V385.5M916.91 358.5V385.5M925.00 358.5V385.5M933.09 358.5V385.5M941.19 358.5V385.5M949.28 358.5V385.5M957.37 358.5V385.5M965.47 358.5V385.5M973.56 358.5V385.5M981.66 358.5V385.5" stroke="#d2d2d2" stroke-width="1" fill="none"/>
<path d="M21.20 383.5V385.5M23.90 383.5V385.5M29.29 383.5V385.5M31.99 383.5V385.5M37.39 383.5V385.5M40.08 383.5V385.5M45.48 383.5V385.5M48.18 383.5V385.5M53.57 383.5V385.5M56.27 383.5V385.5M61.67 383.5V385.5M64.36 383.5V385.5M69.76 383.5V385.5M72.46 383.5V385.5M77.85 383.5V385.5M80.55 383.5V385.5M85.95 383.5V385.5M88.65 383.5V385.5M94.04 383.5V385.5M96.74 383.5V385.5M102.14 383.5V385.5M104.83 383.5V385.5M110.23 383.5V385.5M112.93 383.5V385.5M118.32 383.5V385.5M121.02 383.5V385.5M126.42 383.5V385.5M129.11 383.5V385.5M134.51 383.5V385.5M137.21 383.5V385.5M142.60 383.5V385.5M145.30 383.5V385.5M150.70 383.5V385.5M153.40 383.5V385.5M158.79 383.5V385.5M161.49 383.5V385.5M166.89 383.5V385.5M169.58 383.5V385.5M174.98 383.5V385.5M177.68 383.5V385.5M183.07 383.5V385.5M185.77 383.5V385.5M191.17 383.5V385.5M193.86 383.5V385.5M199.26 383.5V385.5M201.96 383.5V385.5M207.35 383.5V385.5M210.05 383.5V385.5M215.45 383.5V385.5M218.15 383.5V385.5M223.54 383.5V385.5M226.24 383.5V385.5M231.64 383.5V385.5M234.33 383.5V385.5M239.73 383.5V385.5M242.43 383.5V385.5M247.82 383.5V385.5M250.52 383.5V385.5M255.92 383.5V385.5M258.61 383.5V385.5M264.01 383.5V385.5M266.71 383.5V385.5M272.10 383.5V385.5M274.80 383.5V385.5M280.20 383.5V385.5M282.90 383.5V385.5M288.29 383.5V385.5M290.99 383.5V385.5M296.39 383.5V385.5M299.08 383.5V385.5M304.48 383.5V385.5M307.18 383.5V385.5M312.57 383.5V385.5M315.27 383.5V385.5M320.67 383.5V385.5M323.36 383.5V385.5M328.76 383.5V385.5M331.46 383.5V385.5M336.85 383.5V385.5M339.55 383.5V385.5M344.95 383.5V385.5M347.65 383.5V385.5M353.04 383.5V385.5M355.74 383.5V385.5M361.14 383.5V385.5M363.83 383.5V385.5M369.23 383.5V385.5M371.93 383.5V385.5M377.32 383.5V385.5M380.02 383.5V385.5M385.42 383.5V385.5M388.11 383.5V385.5M393.51 383.5V385.5M396.21 383.5V385.5M401.60 383.5V385.5M404.30 383.5V385.5M409.70 383.5V385.5M412.40 383.5V385.5M417.79 383.5V385.5M420.49 383.5V385.5M425.89 383.5V385.5M428.58 383.5V385.5M433.98 383.5V385.5M436.68 383.5V385.5M442.07 383.5V385.5M444.77 383.5V385.5M450.17 383.5V385.5M452.86 383.5V385.5M458.26 383.5V385.5M460.96 383.5V385.5M466.35 383.5V385.5M469.05 383.5V385.5M474.45 383.5V385.5M477.15 383.5V385.5M482.54 383.5V385.5M485.24 383.5V385.5M490.64 383.5V385.5M493.33 383.5V385.5M498.73 383.5V385.5M501.43 383.5V385.5M506.82 383.5V385.5M509.52 383.5V385.5M514.92 383.5V385.5M517.61 383.5V385.5M523.01 383.5V385.5M525.71 383.5V385.5M531.10 383.5V385.5M533.80 383.5V385.5M539.20 383.5V385.5M541.90 383.5V385.5M547.29 383.5V385.5M549.99 383.5V385.5M555.39 383.5V385.5M558.08 383.5V385.5M563.48 383.5V385.5M566.18 383.5V385.5M571.57 383.5V385.5M574.27 383.5V385.5M579.67 383.5V385.5M582.36 383.5V385.5M587.76 383.5V385.5M590.46 383.5V385.5M595.85 383.5V385.5M598.55 383.5V385.5M603.95 383.5V385.5M606.65 383.5V385.5M612.04 383.5V385.5M614.74 383.5V385.5M620.14 383.5V385.5M622.83 383.5V385.5M628.23 383.5V385.5M630.93 383.5V385.5M636.32 383.5V385.5M639.02 383.5V385.5M644.42 383.5V385.5M647.11 383.5V385.5M652.51 383.5V385.5M655.21 383.5V385.5M660.60 383.5V385.5M663.30 383.5V385.5M668.70 383.5V385.5M671.40 383.5V385.5M676.79 383.5V385.5M679.49 383.5V385.5M684.89 383.5V385.5M687.58 383.5V385.5M692.98 383.5V385.5M695.68 383.5V385.5M701.07 383.5V385.5M703.77 383.5V385.5M709.17 383.5V385.5M711.86 383.5V385.5M717.26 383.5V385.5M719.96 383.5V385.5M725.35 383.5V385.5M728.05 383.5V385.5M733.45 383.5V385.5M736.15 383.5V385.5M741.54 383.5V385.5M744.24 383.5V385.5M749.64 383.5V385.5M752.33 383.5V385.5M757.73 383.5V385.5M760.43 383.5V385.5M765.82 383.5V385.5M768.52 383.5V385.5M773.92 383.5V385.5M776.61 383.5V385.5M782.01 383.5V385.5M784.71 383.5V385.5M790.10 383.5V385.5M792.80 383.5V385.5M798.20 383.5V385.5M800.90 383.5V385.5M806.29 383.5V385.5M808.99 383.5V385.5M814.39 383.5V385.5M817.08 383.5V385.5M822.48 383.5V385.5M825.18 383.5V385.5M830.57 383.5V385.5M833.27 383.5V385.5M838.67 383.5V385.5M841.36 383.5V385.5M846.76 383.5V385.5M849.46 383.5V385.5M854.85 383.5V385.5M857.55 383.5V385.5M862.95 383.5V385.5M865.65 383.5V385.5M871.04 383.5V385.5M873.74 383.5V385.5M879.14 383.5V385.5M881.83 383.5V385.5M887.23 383.5V385.5M889.93 383.5V385.5M895.32 383.5V385.5M898.02 383.5V385.5M903.42 383.5V385.5M906.11 383.5V385.5M911.51 383.5V385.5M914.21 383.5V385.5M919.60 383.5V385.5M922.30 383.5V385.5M927.70 383.5V385.5M930.40 383.5V385.5M935.79 383.5V385.5M938.49 383.5V385.5M943.89 383.5V385.5M946.58 383.5V385.5M951.98 383.5V385.5M954.68 383.5V385.5M960.07 383.5V385.5M962.77 383.5V385.5M968.17 383.5V385.5M970.86 383.5V385.5M976.26 383.5V385.5M978.96 383.5V385.5" stroke="#dbe2f0" stroke-width="0.8" fill="none"/>
<path d="M18.5 385.5H989.5" stroke="#ccd6eb" stroke-width="1" fill="none"/>
<path d="M33.75 363.75L28.26 375.64" stroke="#000" stroke-width="1.6" fill="none" stroke-linecap="butt"/>
<path d="M26.25 380.00L30.53 376.69L25.99 374.59Z" fill="#000"/>
<path d="M61.75 367.50L50.49 373.49" stroke="#000" stroke-width="1.6" fill="none" stroke-linecap="butt"/>
<path d="M46.25 375.75L51.66 375.70L49.31 371.29Z" fill="#000"/>
<path d="M86.25 367.50L74.36 372.99" stroke="#000" stroke-width="1.6" fill="none" stroke-linecap="butt"/>
<path d="M70.00 375.00L75.41 375.26L73.31 370.72Z" fill="#000"/>
<path d="M110.00 366.25L98.90 374.20" stroke="#000" stroke-width="1.6" fill="none" stroke-linecap="butt"/>
<path d="M95.00 377.00L100.36 376.24L97.45 372.17Z" fill="#000"/>
<path d="M135.00 368.00L123.16 373.10" stroke="#000" stroke-width="1.6" fill="none" stroke-linecap="butt"/>
<path d="M118.75 375.00L124.15 375.40L122.17 370.80Z" fill="#000"/>
<path d="M159.25 368.00L146.88 373.54" stroke="#000" stroke-width="1.6" fill="none" stroke-linecap="butt"/>
<path d="M142.50 375.50L147.90 375.82L145.86 371.26Z" fill="#000"/>
<path d="M184.25 372.50L171.03 371.21" stroke="#000" stroke-width="1.6" fill="none" stroke-linecap="butt"/>
<path d="M166.25 370.75L170.79 373.70L171.27 368.73Z" fill="#000"/>
<path d="M208.25 370.50L195.24 372.52" stroke="#000" stroke-width="1.6" fill="none" stroke-linecap="butt"/>
<path d="M190.50 373.25L195.63 374.99L194.86 370.04Z" fill="#000"/>
<path d="M232.50 371.75L219.80 371.93" stroke="#000" stroke-width="1.6" fill="none" stroke-linecap="butt"/>
<path d="M215.00 372.00L219.84 374.43L219.76 369.43Z" fill="#000"/>
<path d="M253.75 365.00L245.89 375.42" stroke="#000" stroke-width="1.6" fill="none" stroke-linecap="butt"/>
<path d="M243.00 379.25L247.89 376.92L243.89 373.91Z" fill="#000"/>
<path d="M278.75 365.50L269.61 374.82M278.75 365.50L283.03 369.70" stroke="#000" stroke-width="1.6" fill="none" stroke-linecap="butt"/>
<path d="M266.25 378.25L271.40 376.57L267.83 373.07Z" fill="#000"/>
<path d="M304.50 366.25L293.17 374.23M304.50 366.25L307.96 371.15" stroke="#000" stroke-width="1.6" fill="none" stroke-linecap="butt"/>
<path d="M289.25 377.00L294.61 376.28L291.73 372.19Z" fill="#000"/>
<path d="M328.75 367.00L317.20 373.42M328.75 367.00L331.66 372.24" stroke="#000" stroke-width="1.6" fill="none" stroke-linecap="butt"/>
<path d="M313.00 375.75L318.41 375.60L315.98 371.23Z" fill="#000"/>
<path d="M353.00 368.75L341.23 373.28M353.00 368.75L354.29 372.11" stroke="#000" stroke-width="1.6" fill="none" stroke-linecap="butt"/>
<path d="M336.75 375.00L342.13 375.61L340.33 370.94Z" fill="#000"/>
<path d="M378.25 373.25L365.49 371.25" stroke="#000" stroke-width="1.6" fill="none" stroke-linecap="butt"/>
<path d="M360.75 370.50L365.10 373.71L365.88 368.78Z" fill="#000"/>
<path d="M386.25 374.50L398.46 370.31" stroke="#000" stroke-width="1.6" fill="none" stroke-linecap="butt"/>
<path d="M403.00 368.75L397.65 367.94L399.27 372.67Z" fill="#000"/>
<path d="M410.75 369.50L422.85 372.57M410.75 369.50L411.64 366.01" stroke="#000" stroke-width="1.6" fill="none" stroke-linecap="butt"/>
<path d="M427.50 373.75L423.46 370.15L422.23 374.99Z" fill="#000"/>
<path d="M450.00 367.50L438.68 373.89" stroke="#000" stroke-width="1.6" fill="none" stroke-linecap="butt"/>
<path d="M434.50 376.25L439.91 376.07L437.45 371.71Z" fill="#000"/>
<path d="M466.75 363.25L466.75 375.95" stroke="#000" stroke-width="1.6" fill="none" stroke-linecap="butt"/>
<path d="M466.75 380.75L469.25 375.95L464.25 375.95Z" fill="#000"/>
<path d="M487.50 379.25L492.52 368.12" stroke="#000" stroke-width="1.6" fill="none" stroke-linecap="butt"/>
<path d="M494.50 363.75L490.25 367.10L494.80 369.15Z" fill="#000"/>
<path d="M511.25 365.25L518.26 375.31M511.25 365.25L514.20 363.19" stroke="#000" stroke-width="1.6" fill="none" stroke-linecap="butt"/>
<path d="M521.00 379.25L520.31 373.88L516.21 376.74Z" fill="#000"/>
<path d="M533.00 367.00L543.98 374.13M533.00 367.00L534.96 363.98" stroke="#000" stroke-width="1.6" fill="none" stroke-linecap="butt"/>
<path d="M548.00 376.75L545.34 372.04L542.61 376.23Z" fill="#000"/>
<path d="M555.60 372.40L568.98 371.00" stroke="#000" stroke-width="1.6" fill="none" stroke-linecap="butt"/>
<path d="M573.75 370.50L568.72 368.51L569.24 373.49Z" fill="#000"/>
<path d="M580.00 372.00L592.96 371.20M580.00 372.00L579.78 368.41" stroke="#000" stroke-width="1.6" fill="none" stroke-linecap="butt"/>
<path d="M597.75 370.90L592.80 368.70L593.11 373.69Z" fill="#000"/>
<path d="M606.25 365.50L616.10 374.72M606.25 365.50L610.35 361.12M608.37 367.48L610.83 364.85" stroke="#000" stroke-width="1.6" fill="none" stroke-linecap="butt"/>
<path d="M619.60 378.00L617.80 372.89L614.39 376.54Z" fill="#000"/>
<path d="M628.75 368.00L641.19 373.35M628.75 368.00L631.12 362.49" stroke="#000" stroke-width="1.6" fill="none" stroke-linecap="butt"/>
<path d="M645.60 375.25L642.18 371.06L640.20 375.65Z" fill="#000"/>
<path d="M653.10 367.75L665.61 373.30M653.10 367.75L655.53 362.27" stroke="#000" stroke-width="1.6" fill="none" stroke-linecap="butt"/>
<path d="M670.00 375.25L666.63 371.02L664.60 375.59Z" fill="#000"/>
<path d="M678.50 366.50L689.20 374.20M678.50 366.50L682.00 361.63" stroke="#000" stroke-width="1.6" fill="none" stroke-linecap="butt"/>
<path d="M693.10 377.00L690.66 372.17L687.74 376.23Z" fill="#000"/>
<path d="M702.50 368.25L714.34 373.35M702.50 368.25L703.92 364.94" stroke="#000" stroke-width="1.6" fill="none" stroke-linecap="butt"/>
<path d="M718.75 375.25L715.33 371.05L713.35 375.65Z" fill="#000"/>
<path d="M730.00 365.25L736.24 375.41M730.00 365.25L733.07 363.37" stroke="#000" stroke-width="1.6" fill="none" stroke-linecap="butt"/>
<path d="M738.75 379.50L738.37 374.10L734.11 376.72Z" fill="#000"/>
<path d="M755.00 363.60L760.53 375.87" stroke="#000" stroke-width="1.6" fill="none" stroke-linecap="butt"/>
<path d="M762.50 380.25L762.81 374.85L758.25 376.90Z" fill="#000"/>
<path d="M777.50 378.60L785.17 367.54" stroke="#000" stroke-width="1.6" fill="none" stroke-linecap="butt"/>
<path d="M787.90 363.60L783.11 366.12L787.22 368.97Z" fill="#000"/>
<path d="M798.50 371.50L811.70 371.21M798.50 371.50L798.42 367.90" stroke="#000" stroke-width="1.6" fill="none" stroke-linecap="butt"/>
<path d="M816.50 371.10L811.65 368.71L811.76 373.71Z" fill="#000"/>
<path d="M821.90 371.10L835.80 371.10M821.90 371.10L821.90 365.10" stroke="#000" stroke-width="1.6" fill="none" stroke-linecap="butt"/>
<path d="M840.60 371.10L835.80 368.60L835.80 373.60Z" fill="#000"/>
<path d="M846.60 369.90L860.26 372.02M846.60 369.90L847.52 363.97" stroke="#000" stroke-width="1.6" fill="none" stroke-linecap="butt"/>
<path d="M865.00 372.75L860.64 369.54L859.87 374.49Z" fill="#000"/>
<path d="M870.75 371.40L884.10 371.40M870.75 371.40L870.75 365.40" stroke="#000" stroke-width="1.6" fill="none" stroke-linecap="butt"/>
<path d="M888.90 371.40L884.10 368.90L884.10 373.90Z" fill="#000"/>
<path d="M894.50 371.40L908.20 371.18M894.50 371.40L894.40 365.40" stroke="#000" stroke-width="1.6" fill="none" stroke-linecap="butt"/>
<path d="M913.00 371.10L908.16 368.68L908.24 373.68Z" fill="#000"/>
<path d="M918.90 372.40L932.64 370.69M918.90 372.40L918.16 366.45" stroke="#000" stroke-width="1.6" fill="none" stroke-linecap="butt"/>
<path d="M937.40 370.10L932.33 368.21L932.95 373.17Z" fill="#000"/>
<path d="M943.25 371.50L956.60 371.06M943.25 371.50L943.05 365.50M946.15 371.40L946.03 367.81" stroke="#000" stroke-width="1.6" fill="none" stroke-linecap="butt"/>
<path d="M961.40 370.90L956.52 368.56L956.69 373.56Z" fill="#000"/>
<path d="M968.90 367.00L980.40 374.00M968.90 367.00L972.02 361.88M971.38 368.51L974.50 363.38M973.85 370.02L975.73 366.94" stroke="#000" stroke-width="1.6" fill="none" stroke-linecap="butt"/>
<path d="M984.50 376.50L981.70 371.87L979.10 376.14Z" fill="#000"/>
<path d="M47.80 50.5V67.0M112.55 50.5V67.0M177.30 50.5V67.0M242.05 50.5V67.0M306.80 50.5V67.0M371.55 50.5V67.0M436.30 50.5V67.0M501.05 50.5V67.0M565.80 50.5V67.0M630.55 50.5V67.0M695.30 50.5V67.0M760.05 50.5V67.0M824.80 50.5V67.0M889.55 50.5V67.0M954.30 50.5V67.0" stroke="#ccd6eb" stroke-width="1" fill="none"/>
<g transform="translate(53.80 58.30) rotate(-45)"><text font-weight="bold" font-size="11.0" fill="#444">Sun</text><text transform="translate(23.44 0) scale(0.9231 1)" font-size="10.4" fill="#505050" stroke="#505050" stroke-width="0.18">Dec 21</text></g>
<g transform="translate(118.55 58.30) rotate(-45)"><text font-weight="bold" font-size="11.0" fill="#444">Mon</text><text transform="translate(25.27 0) scale(0.9231 1)" font-size="10.4" fill="#505050" stroke="#505050" stroke-width="0.18">Dec 22</text></g>
<g transform="translate(183.30 58.30) rotate(-45)"><text font-weight="bold" font-size="11.0" fill="#444">Tue</text><text transform="translate(21.41 0) scale(0.9231 1)" font-size="10.4" fill="#505050" stroke="#505050" stroke-width="0.18">Dec 23</text></g>
<g transform="translate(248.05 58.30) rotate(-45)"><text font-weight="bold" font-size="11.0" fill="#444">Wed</text><text transform="translate(25.69 0) scale(0.9231 1)" font-size="10.4" fill="#505050" stroke="#505050" stroke-width="0.18">Dec 24</text></g>
<g transform="translate(312.80 58.30) rotate(-45)"><text font-weight="bold" font-size="11.0" fill="#444">Thu</text><text transform="translate(22.83 0) scale(0.9231 1)" font-size="10.4" fill="#505050" stroke="#505050" stroke-width="0.18">Dec 25</text></g>
<g transform="translate(377.55 58.30) rotate(-45)"><text font-weight="bold" font-size="11.0" fill="#444">Fri</text><text transform="translate(16.72 0) scale(0.9231 1)" font-size="10.4" fill="#505050" stroke="#505050" stroke-width="0.18">Dec 26</text></g>
<g transform="translate(442.30 58.30) rotate(-45)"><text font-weight="bold" font-size="11.0" fill="#444">Sat</text><text transform="translate(19.79 0) scale(0.9231 1)" font-size="10.4" fill="#505050" stroke="#505050" stroke-width="0.18">Dec 27</text></g>
<g transform="translate(507.05 58.30) rotate(-45)"><text font-weight="bold" font-size="11.0" fill="#444">Sun</text><text transform="translate(23.44 0) scale(0.9231 1)" font-size="10.4" fill="#505050" stroke="#505050" stroke-width="0.18">Dec 28</text></g>
<g transform="translate(571.80 58.30) rotate(-45)"><text font-weight="bold" font-size="11.0" fill="#444">Mon</text><text transform="translate(25.27 0) scale(0.9231 1)" font-size="10.4" fill="#505050" stroke="#505050" stroke-width="0.18">Dec 29</text></g>
<g transform="translate(636.55 58.30) rotate(-45)"><text font-weight="bold" font-size="11.0" fill="#444">Tue</text><text transform="translate(21.41 0) scale(0.9231 1)" font-size="10.4" fill="#505050" stroke="#505050" stroke-width="0.18">Dec 30</text></g>
<g transform="translate(701.30 58.30) rotate(-45)"><text font-weight="bold" font-size="11.0" fill="#444">Wed</text><text transform="translate(25.69 0) scale(0.9231 1)" font-size="10.4" fill="#505050" stroke="#505050" stroke-width="0.18">Dec 31</text></g>
<g transform="translate(766.05 58.30) rotate(-45)"><text font-weight="bold" font-size="11.0" fill="#444">Thu</text><text transform="translate(22.83 0) scale(0.9231 1)" font-size="10.4" fill="#505050" stroke="#505050" stroke-width="0.18">Jan 1</text></g>
<g transform="translate(830.80 58.30) rotate(-45)"><text font-weight="bold" font-size="11.0" fill="#444">Fri</text><text transform="translate(16.72 0) scale(0.9231 1)" font-size="10.4" fill="#505050" stroke="#505050" stroke-width="0.18">Jan 2</text></g>
<g transform="translate(895.55 58.30) rotate(-45)"><text font-weight="bold" font-size="11.0" fill="#444">Sat</text><text transform="translate(19.79 0) scale(0.9231 1)" font-size="10.4" fill="#505050" stroke="#505050" stroke-width="0.18">Jan 3</text></g>
<g transform="translate(960.30 58.30) rotate(-45)"><text font-weight="bold" font-size="11.0" fill="#444">Sun</text><text transform="translate(23.44 0) scale(0.9231 1)" font-size="10.4" fill="#505050" stroke="#505050" stroke-width="0.18">Jan 4</text></g>
<text x="16.3" y="119.00" text-anchor="end" font-size="9.4" fill="#666" stroke="#666" stroke-width="0.15">5<tspan font-size="6" dy="-2.6">°</tspan></text>
<text x="16.3" y="179.75" text-anchor="end" font-size="9.4" fill="#666" stroke="#666" stroke-width="0.15">0<tspan font-size="6" dy="-2.6">°</tspan></text>
<text x="16.3" y="240.45" text-anchor="end" font-size="9.4" fill="#666" stroke="#666" stroke-width="0.15">−5<tspan font-size="6" dy="-2.6">°</tspan></text>
<text x="16.3" y="301.15" text-anchor="end" font-size="9.4" fill="#666" stroke="#666" stroke-width="0.15">−10<tspan font-size="6" dy="-2.6">°</tspan></text>
<text x="16.3" y="361.85" text-anchor="end" font-size="9.4" fill="#666" stroke="#666" stroke-width="0.15">−15<tspan font-size="6" dy="-2.6">°</tspan></text>
<text transform="translate(1003 71.80) scale(1.15 1)" font-size="9.2" fill="#666" stroke="#666" stroke-width="0.12">6</text>
<text transform="translate(1003 129.60) scale(1.15 1)" font-size="9.2" fill="#666" stroke="#666" stroke-width="0.12">4.8</text>
<text transform="translate(1003 187.80) scale(1.15 1)" font-size="9.2" fill="#666" stroke="#666" stroke-width="0.12">3.6</text>
<text transform="translate(1003 246.00) scale(1.15 1)" font-size="9.2" fill="#666" stroke="#666" stroke-width="0.12">2.4</text>
<text transform="translate(1003 304.50) scale(1.15 1)" font-size="9.2" fill="#666" stroke="#666" stroke-width="0.12">1.2</text>
<text transform="translate(1003 362.30) scale(1.15 1)" font-size="9.2" fill="#666" stroke="#666" stroke-width="0.12">0</text>
<text transform="translate(1019.0 213) rotate(90)" text-anchor="middle" font-size="11.4" fill="#666">Precipitation (mm)</text>
<text transform="translate(26.92 401.05) scale(1.06 0.935)" text-anchor="middle" font-size="10" fill="#666">16</text>
<text transform="translate(48.50 401.05) scale(1.06 0.935)" text-anchor="middle" font-size="10" fill="#666">00</text>
<text transform="translate(70.08 401.05) scale(1.06 0.935)" text-anchor="middle" font-size="10" fill="#666">08</text>
<text transform="translate(91.67 401.05) scale(1.06 0.935)" text-anchor="middle" font-size="10" fill="#666">16</text>
<text transform="translate(113.25 401.05) scale(1.06 0.935)" text-anchor="middle" font-size="10" fill="#666">00</text>
<text transform="translate(134.83 401.05) scale(1.06 0.935)" text-anchor="middle" font-size="10" fill="#666">08</text>
<text transform="translate(156.42 401.05) scale(1.06 0.935)" text-anchor="middle" font-size="10" fill="#666">16</text>
<text transform="translate(178.00 401.05) scale(1.06 0.935)" text-anchor="middle" font-size="10" fill="#666">00</text>
<text transform="translate(199.58 401.05) scale(1.06 0.935)" text-anchor="middle" font-size="10" fill="#666">08</text>
<text transform="translate(221.17 401.05) scale(1.06 0.935)" text-anchor="middle" font-size="10" fill="#666">16</text>
<text transform="translate(242.75 401.05) scale(1.06 0.935)" text-anchor="middle" font-size="10" fill="#666">00</text>
<text transform="translate(264.33 401.05) scale(1.06 0.935)" text-anchor="middle" font-size="10" fill="#666">08</text>
<text transform="translate(285.92 401.05) scale(1.06 0.935)" text-anchor="middle" font-size="10" fill="#666">16</text>
<text transform="translate(307.50 401.05) scale(1.06 0.935)" text-anchor="middle" font-size="10" fill="#666">00</text>
<text transform="translate(329.08 401.05) scale(1.06 0.935)" text-anchor="middle" font-size="10" fill="#666">08</text>
<text transform="translate(350.67 401.05) scale(1.06 0.935)" text-anchor="middle" font-size="10" fill="#666">16</text>
<text transform="translate(372.25 401.05) scale(1.06 0.935)" text-anchor="middle" font-size="10" fill="#666">00</text>
<text transform="translate(393.83 401.05) scale(1.06 0.935)" text-anchor="middle" font-size="10" fill="#666">08</text>
<text transform="translate(415.42 401.05) scale(1.06 0.935)" text-anchor="middle" font-size="10" fill="#666">16</text>
<text transform="translate(437.00 401.05) scale(1.06 0.935)" text-anchor="middle" font-size="10" fill="#666">00</text>
<text transform="translate(458.58 401.05) scale(1.06 0.935)" text-anchor="middle" font-size="10" fill="#666">08</text>
<text transform="translate(480.17 401.05) scale(1.06 0.935)" text-anchor="middle" font-size="10" fill="#666">16</text>
<text transform="translate(501.75 401.05) scale(1.06 0.935)" text-anchor="middle" font-size="10" fill="#666">00</text>
<text transform="translate(523.33 401.05) scale(1.06 0.935)" text-anchor="middle" font-size="10" fill="#666">08</text>
<text transform="translate(544.92 401.05) scale(1.06 0.935)" text-anchor="middle" font-size="10" fill="#666">16</text>
<text transform="translate(566.50 401.05) scale(1.06 0.935)" text-anchor="middle" font-size="10" fill="#666">00</text>
<text transform="translate(588.08 401.05) scale(1.06 0.935)" text-anchor="middle" font-size="10" fill="#666">08</text>
<text transform="translate(609.67 401.05) scale(1.06 0.935)" text-anchor="middle" font-size="10" fill="#666">16</text>
<text transform="translate(631.25 401.05) scale(1.06 0.935)" text-anchor="middle" font-size="10" fill="#666">00</text>
<text transform="translate(652.83 401.05) scale(1.06 0.935)" text-anchor="middle" font-size="10" fill="#666">08</text>
<text transform="translate(674.42 401.05) scale(1.06 0.935)" text-anchor="middle" font-size="10" fill="#666">16</text>
<text transform="translate(696.00 401.05) scale(1.06 0.935)" text-anchor="middle" font-size="10" fill="#666">00</text>
<text transform="translate(717.58 401.05) scale(1.06 0.935)" text-anchor="middle" font-size="10" fill="#666">08</text>
<text transform="translate(739.17 401.05) scale(1.06 0.935)" text-anchor="middle" font-size="10" fill="#666">16</text>
<text transform="translate(760.75 401.05) scale(1.06 0.935)" text-anchor="middle" font-size="10" fill="#666">00</text>
<text transform="translate(782.33 401.05) scale(1.06 0.935)" text-anchor="middle" font-size="10" fill="#666">08</text>
<text transform="translate(803.92 401.05) scale(1.06 0.935)" text-anchor="middle" font-size="10" fill="#666">16</text>
<text transform="translate(825.50 401.05) scale(1.06 0.935)" text-anchor="middle" font-size="10" fill="#666">00</text>
<text transform="translate(847.08 401.05) scale(1.06 0.935)" text-anchor="middle" font-size="10" fill="#666">08</text>
<text transform="translate(868.67 401.05) scale(1.06 0.935)" text-anchor="middle" font-size="10" fill="#666">16</text>
<text transform="translate(890.25 401.05) scale(1.06 0.935)" text-anchor="middle" font-size="10" fill="#666">00</text>
<text transform="translate(911.83 401.05) scale(1.06 0.935)" text-anchor="middle" font-size="10" fill="#666">08</text>
<text transform="translate(933.42 401.05) scale(1.06 0.935)" text-anchor="middle" font-size="10" fill="#666">16</text>
<text transform="translate(955.00 401.05) scale(1.06 0.935)" text-anchor="middle" font-size="10" fill="#666">00</text>
<text transform="translate(976.58 401.05) scale(1.06 0.935)" text-anchor="middle" font-size="10" fill="#666">08</text>
<text x="456.2" y="418.7" font-size="11" fill="#666" textLength="97" lengthAdjust="spacingAndGlyphs">Local time (UTC+1)</text>
<text x="989.6" y="414.8" text-anchor="end" font-size="8.6" fill="#999">wetterzentrale.de</text>
<text x="398.6" y="6.6" font-size="14.2" fill="#333" textLength="216.2" lengthAdjust="spacingAndGlyphs">GFS Salgotarjan (HU) 48N, 19.75E</text>
<text x="392.3" y="17.6" font-size="10.7" fill="#666" textLength="124.5" lengthAdjust="spacingAndGlyphs">Init: Sat, 20Dec2025 12Z</text>
<text x="541.3" y="17.6" font-size="10.7" fill="#666" textLength="26.3" lengthAdjust="spacingAndGlyphs">07:31</text>
<text x="592.6" y="17.6" font-size="10.7" fill="#666" textLength="27.3" lengthAdjust="spacingAndGlyphs">15:45</text>
<g stroke="#111" fill="none" stroke-width="1"><path d="M521.20 22.30H536.60" stroke-width="1.1"/><path d="M525.50 22.00A3.4 3.4 0 0 1 532.30 22.00" stroke-width="1.1"/><path d="M524.24 20.23L521.96 19.21" stroke-width="1.1"/><path d="M526.05 18.07L524.65 16.00" stroke-width="1.1"/><path d="M528.90 17.20L528.90 14.70" stroke-width="1.1"/><path d="M531.75 18.07L533.15 16.00" stroke-width="1.1"/><path d="M533.56 20.23L535.84 19.21" stroke-width="1.1"/><path d="M528.90 9.6V12.6" stroke-width="1.6"/><path d="M528.90 7.3L526.70 9.9H531.10Z" fill="#111" stroke="none"/></g>
<g stroke="#111" fill="none" stroke-width="1"><path d="M572.80 22.30H588.20" stroke-width="1.1"/><path d="M577.10 22.00A3.4 3.4 0 0 1 583.90 22.00" stroke-width="1.1"/><path d="M575.84 20.23L573.56 19.21" stroke-width="1.1"/><path d="M577.65 18.07L576.25 16.00" stroke-width="1.1"/><path d="M580.50 17.20L580.50 14.70" stroke-width="1.1"/><path d="M583.35 18.07L584.75 16.00" stroke-width="1.1"/><path d="M585.16 20.23L587.44 19.21" stroke-width="1.1"/><path d="M580.50 7.4V10.2" stroke-width="1.6"/><path d="M580.50 12.9L578.30 9.9H582.70Z" fill="#111" stroke="none"/></g>
<g stroke="#666" stroke-width="2.6" stroke-linecap="round"><path d="M1000.3 0.6H1012.6"/><path d="M1000.3 5.3H1012.6"/><path d="M1000.3 10H1012.6"/></g>
</g></svg></body></html>
